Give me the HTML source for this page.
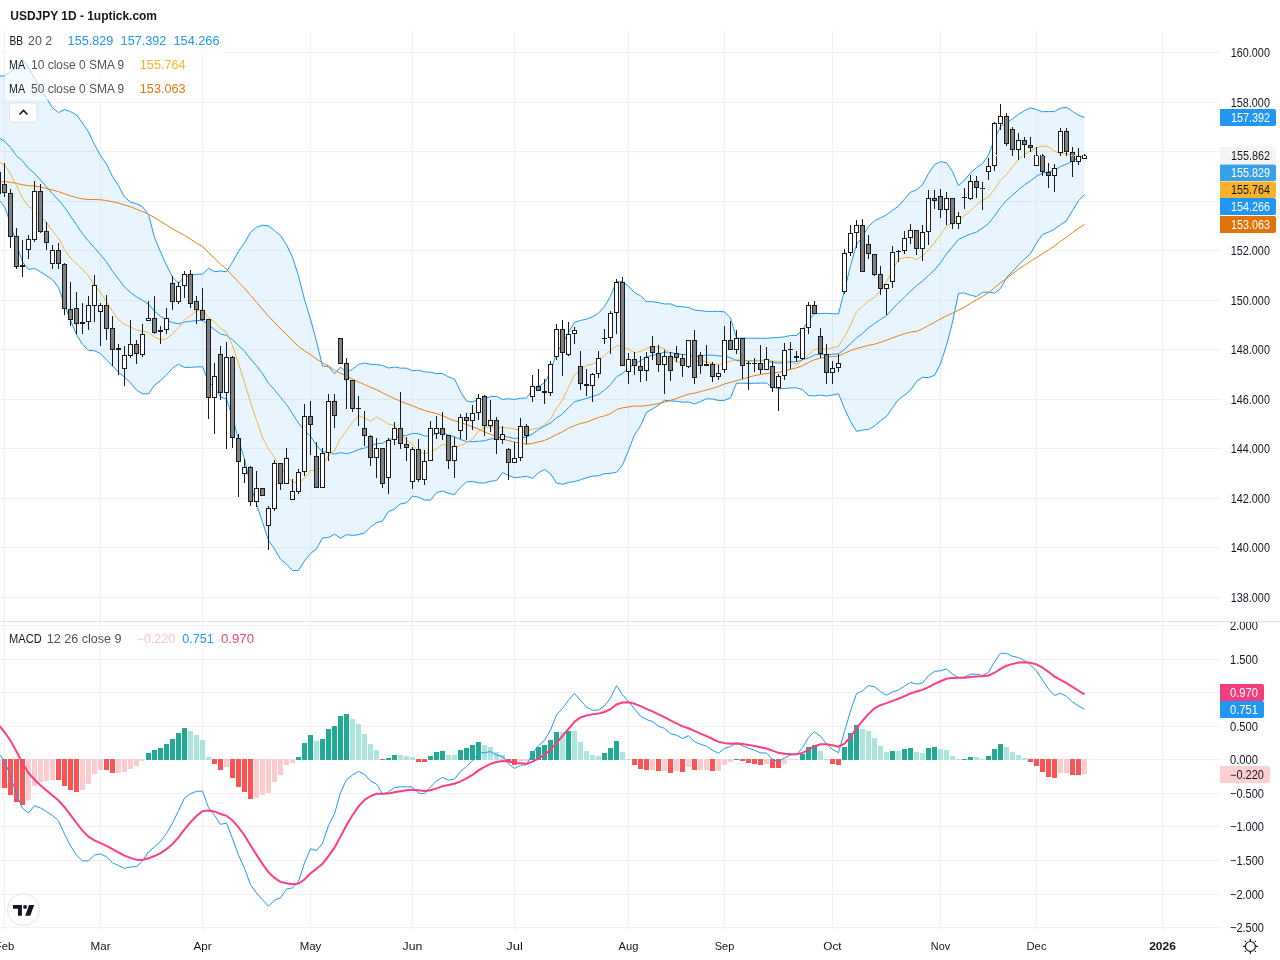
<!DOCTYPE html><html><head><meta charset="utf-8"><style>
html,body{margin:0;padding:0;background:#fff;width:1280px;height:960px;overflow:hidden}
svg{display:block;will-change:transform}
</style></head><body>
<svg width="1280" height="960" viewBox="0 0 1280 960" font-family="Liberation Sans, sans-serif">
<defs><clipPath id="cm"><rect x="0" y="31" width="1220" height="590"/></clipPath><clipPath id="cd"><rect x="0" y="622" width="1220" height="309"/></clipPath></defs>
<rect x="0" y="597" width="1220" height="1" fill="#f1f1f2"/>
<rect x="0" y="547" width="1220" height="1" fill="#f1f1f2"/>
<rect x="0" y="498" width="1220" height="1" fill="#f1f1f2"/>
<rect x="0" y="448" width="1220" height="1" fill="#f1f1f2"/>
<rect x="0" y="399" width="1220" height="1" fill="#f1f1f2"/>
<rect x="0" y="349" width="1220" height="1" fill="#f1f1f2"/>
<rect x="0" y="300" width="1220" height="1" fill="#f1f1f2"/>
<rect x="0" y="250" width="1220" height="1" fill="#f1f1f2"/>
<rect x="0" y="201" width="1220" height="1" fill="#f1f1f2"/>
<rect x="0" y="151" width="1220" height="1" fill="#f1f1f2"/>
<rect x="0" y="102" width="1220" height="1" fill="#f1f1f2"/>
<rect x="0" y="52" width="1220" height="1" fill="#f1f1f2"/>
<rect x="0" y="625" width="1220" height="1" fill="#f1f1f2"/>
<rect x="0" y="659" width="1220" height="1" fill="#f1f1f2"/>
<rect x="0" y="692" width="1220" height="1" fill="#f1f1f2"/>
<rect x="0" y="726" width="1220" height="1" fill="#f1f1f2"/>
<rect x="0" y="759" width="1220" height="1" fill="#f1f1f2"/>
<rect x="0" y="793" width="1220" height="1" fill="#f1f1f2"/>
<rect x="0" y="826" width="1220" height="1" fill="#f1f1f2"/>
<rect x="0" y="860" width="1220" height="1" fill="#f1f1f2"/>
<rect x="0" y="894" width="1220" height="1" fill="#f1f1f2"/>
<rect x="0" y="927" width="1220" height="1" fill="#f1f1f2"/>
<rect x="4" y="31" width="1" height="900" fill="#f1f1f2"/>
<rect x="100" y="31" width="1" height="900" fill="#f1f1f2"/>
<rect x="202" y="31" width="1" height="900" fill="#f1f1f2"/>
<rect x="310" y="31" width="1" height="900" fill="#f1f1f2"/>
<rect x="412" y="31" width="1" height="900" fill="#f1f1f2"/>
<rect x="514" y="31" width="1" height="900" fill="#f1f1f2"/>
<rect x="628" y="31" width="1" height="900" fill="#f1f1f2"/>
<rect x="724" y="31" width="1" height="900" fill="#f1f1f2"/>
<rect x="832" y="31" width="1" height="900" fill="#f1f1f2"/>
<rect x="940" y="31" width="1" height="900" fill="#f1f1f2"/>
<rect x="1036" y="31" width="1" height="900" fill="#f1f1f2"/>
<rect x="1162" y="31" width="1" height="900" fill="#f1f1f2"/>
<rect x="0" y="621" width="1280" height="1" fill="#e0e3eb"/>
<g clip-path="url(#cm)">
<polygon points="-1.50,76.11 4.50,75.96 10.50,71.64 16.50,67.01 22.50,59.84 28.50,67.28 34.50,78.36 40.50,88.18 46.50,98.12 52.50,107.74 58.50,112.64 64.50,109.51 70.50,111.65 76.50,114.81 82.50,123.12 88.50,131.95 94.50,144.59 100.50,155.64 106.50,164.05 112.50,176.53 118.50,185.67 124.50,196.94 130.50,202.19 136.50,203.63 142.50,206.74 148.50,214.67 154.50,237.41 160.50,251.83 166.50,265.10 172.50,277.08 178.50,283.28 184.50,276.64 190.50,275.23 196.50,274.24 202.50,274.07 208.50,268.32 214.50,271.66 220.50,271.01 226.50,271.72 232.50,262.13 238.50,251.28 244.50,242.89 250.50,232.43 256.50,227.26 262.50,225.17 268.50,225.88 274.50,230.51 280.50,235.50 286.50,244.74 292.50,257.17 298.50,275.95 304.50,299.60 310.50,319.05 316.50,341.56 322.50,365.97 328.50,366.66 334.50,373.85 340.50,367.02 346.50,372.70 352.50,369.07 358.50,364.41 364.50,363.04 370.50,364.32 376.50,364.66 382.50,365.40 388.50,368.07 394.50,367.03 400.50,368.14 406.50,368.13 412.50,370.72 418.50,370.21 424.50,371.84 430.50,372.18 436.50,373.68 442.50,373.46 448.50,376.90 454.50,379.05 460.50,391.57 466.50,401.00 472.50,402.07 478.50,399.57 484.50,398.58 490.50,396.64 496.50,396.41 502.50,399.46 508.50,398.77 514.50,399.39 520.50,398.29 526.50,397.95 532.50,389.58 538.50,386.42 544.50,382.78 550.50,372.03 556.50,353.01 562.50,343.53 568.50,332.71 574.50,322.18 580.50,320.46 586.50,319.06 592.50,316.80 598.50,313.17 604.50,306.56 610.50,296.14 616.50,281.53 622.50,281.69 628.50,286.11 634.50,292.55 640.50,295.75 646.50,301.64 652.50,301.65 658.50,302.64 664.50,303.97 670.50,303.88 676.50,306.37 682.50,306.75 688.50,307.44 694.50,310.12 700.50,310.63 706.50,311.43 712.50,311.36 718.50,311.39 724.50,311.76 730.50,317.91 736.50,338.09 742.50,338.09 748.50,338.25 754.50,338.22 760.50,338.28 766.50,338.40 772.50,337.71 778.50,337.60 784.50,336.81 790.50,335.48 796.50,335.48 802.50,329.86 808.50,320.64 814.50,313.78 820.50,313.49 826.50,313.34 832.50,313.62 838.50,313.85 844.50,290.27 850.50,265.83 856.50,244.67 862.50,236.66 868.50,226.36 874.50,220.76 880.50,217.92 886.50,214.89 892.50,210.25 898.50,206.11 904.50,199.14 910.50,192.12 916.50,189.92 922.50,184.61 928.50,173.64 934.50,164.59 940.50,161.59 946.50,162.79 952.50,171.50 958.50,185.55 964.50,180.30 970.50,172.83 976.50,167.76 982.50,163.63 988.50,155.05 994.50,138.95 1000.50,126.43 1006.50,123.00 1012.50,118.83 1018.50,114.42 1024.50,110.67 1030.50,107.93 1036.50,109.54 1042.50,111.73 1048.50,111.67 1054.50,111.54 1060.50,108.19 1066.50,107.39 1072.50,111.34 1078.50,115.32 1084.50,117.34 1084.50,194.56 1078.50,200.80 1072.50,210.71 1066.50,220.83 1060.50,224.81 1054.50,229.18 1048.50,232.23 1042.50,234.53 1036.50,242.92 1030.50,253.77 1024.50,259.23 1018.50,264.87 1012.50,271.59 1006.50,277.73 1000.50,288.47 994.50,293.15 988.50,292.12 982.50,292.34 976.50,296.56 970.50,295.27 964.50,292.97 958.50,293.28 952.50,322.08 946.50,345.29 940.50,363.89 934.50,375.39 928.50,377.58 922.50,377.29 916.50,381.48 910.50,390.23 904.50,395.21 898.50,399.44 892.50,407.70 886.50,416.46 880.50,420.85 874.50,426.04 868.50,429.39 862.50,430.04 856.50,431.33 850.50,421.42 844.50,408.58 838.50,393.75 832.50,394.98 826.50,396.01 820.50,395.06 814.50,395.95 808.50,395.46 802.50,389.74 796.50,387.90 790.50,387.90 784.50,388.64 778.50,388.48 772.50,387.22 766.50,383.10 760.50,383.05 754.50,383.28 748.50,383.43 742.50,383.21 736.50,383.21 730.50,397.84 724.50,400.39 718.50,400.46 712.50,398.99 706.50,398.77 700.50,401.67 694.50,403.98 688.50,402.06 682.50,402.18 676.50,401.25 670.50,400.94 664.50,400.26 658.50,405.24 652.50,408.85 646.50,412.26 640.50,425.97 634.50,434.77 628.50,450.44 622.50,465.16 616.50,472.25 610.50,473.33 604.50,473.67 598.50,475.83 592.50,476.13 586.50,477.74 580.50,479.84 574.50,481.50 568.50,482.54 562.50,484.32 556.50,483.01 550.50,473.82 544.50,469.47 538.50,472.73 532.50,478.39 526.50,476.32 520.50,477.11 514.50,477.73 508.50,475.43 502.50,472.57 496.50,480.59 490.50,481.26 484.50,482.92 478.50,482.93 472.50,481.48 466.50,482.02 460.50,487.38 454.50,494.48 448.50,493.45 442.50,490.99 436.50,492.67 430.50,500.15 424.50,500.06 418.50,497.19 412.50,496.08 406.50,502.87 400.50,503.96 394.50,509.07 388.50,511.53 382.50,520.97 376.50,522.81 370.50,527.10 364.50,532.89 358.50,534.69 352.50,535.38 346.50,534.70 340.50,538.13 334.50,534.25 328.50,537.62 322.50,537.91 316.50,548.86 310.50,553.55 304.50,560.95 298.50,570.40 292.50,570.56 286.50,564.01 280.50,559.25 274.50,548.94 268.50,540.44 262.50,522.16 256.50,504.04 250.50,485.47 244.50,459.29 238.50,439.69 232.50,417.45 226.50,399.08 220.50,396.86 214.50,387.49 208.50,381.70 202.50,366.73 196.50,366.91 190.50,367.37 184.50,367.46 178.50,364.22 172.50,368.14 166.50,374.93 160.50,380.68 154.50,385.12 148.50,393.78 142.50,393.81 136.50,390.09 130.50,382.75 124.50,377.15 118.50,372.15 112.50,365.84 106.50,359.92 100.50,353.63 94.50,350.81 88.50,350.33 82.50,344.44 76.50,334.58 70.50,320.41 64.50,304.90 58.50,287.39 52.50,279.79 46.50,275.72 40.50,271.82 34.50,268.45 28.50,269.46 22.50,261.92 16.50,244.50 10.50,223.38 4.50,206.70 -1.50,199.19" fill="#2196f3" fill-opacity="0.1"/>
<polyline points="-1.50,76.11 4.50,75.96 10.50,71.64 16.50,67.01 22.50,59.84 28.50,67.28 34.50,78.36 40.50,88.18 46.50,98.12 52.50,107.74 58.50,112.64 64.50,109.51 70.50,111.65 76.50,114.81 82.50,123.12 88.50,131.95 94.50,144.59 100.50,155.64 106.50,164.05 112.50,176.53 118.50,185.67 124.50,196.94 130.50,202.19 136.50,203.63 142.50,206.74 148.50,214.67 154.50,237.41 160.50,251.83 166.50,265.10 172.50,277.08 178.50,283.28 184.50,276.64 190.50,275.23 196.50,274.24 202.50,274.07 208.50,268.32 214.50,271.66 220.50,271.01 226.50,271.72 232.50,262.13 238.50,251.28 244.50,242.89 250.50,232.43 256.50,227.26 262.50,225.17 268.50,225.88 274.50,230.51 280.50,235.50 286.50,244.74 292.50,257.17 298.50,275.95 304.50,299.60 310.50,319.05 316.50,341.56 322.50,365.97 328.50,366.66 334.50,373.85 340.50,367.02 346.50,372.70 352.50,369.07 358.50,364.41 364.50,363.04 370.50,364.32 376.50,364.66 382.50,365.40 388.50,368.07 394.50,367.03 400.50,368.14 406.50,368.13 412.50,370.72 418.50,370.21 424.50,371.84 430.50,372.18 436.50,373.68 442.50,373.46 448.50,376.90 454.50,379.05 460.50,391.57 466.50,401.00 472.50,402.07 478.50,399.57 484.50,398.58 490.50,396.64 496.50,396.41 502.50,399.46 508.50,398.77 514.50,399.39 520.50,398.29 526.50,397.95 532.50,389.58 538.50,386.42 544.50,382.78 550.50,372.03 556.50,353.01 562.50,343.53 568.50,332.71 574.50,322.18 580.50,320.46 586.50,319.06 592.50,316.80 598.50,313.17 604.50,306.56 610.50,296.14 616.50,281.53 622.50,281.69 628.50,286.11 634.50,292.55 640.50,295.75 646.50,301.64 652.50,301.65 658.50,302.64 664.50,303.97 670.50,303.88 676.50,306.37 682.50,306.75 688.50,307.44 694.50,310.12 700.50,310.63 706.50,311.43 712.50,311.36 718.50,311.39 724.50,311.76 730.50,317.91 736.50,338.09 742.50,338.09 748.50,338.25 754.50,338.22 760.50,338.28 766.50,338.40 772.50,337.71 778.50,337.60 784.50,336.81 790.50,335.48 796.50,335.48 802.50,329.86 808.50,320.64 814.50,313.78 820.50,313.49 826.50,313.34 832.50,313.62 838.50,313.85 844.50,290.27 850.50,265.83 856.50,244.67 862.50,236.66 868.50,226.36 874.50,220.76 880.50,217.92 886.50,214.89 892.50,210.25 898.50,206.11 904.50,199.14 910.50,192.12 916.50,189.92 922.50,184.61 928.50,173.64 934.50,164.59 940.50,161.59 946.50,162.79 952.50,171.50 958.50,185.55 964.50,180.30 970.50,172.83 976.50,167.76 982.50,163.63 988.50,155.05 994.50,138.95 1000.50,126.43 1006.50,123.00 1012.50,118.83 1018.50,114.42 1024.50,110.67 1030.50,107.93 1036.50,109.54 1042.50,111.73 1048.50,111.67 1054.50,111.54 1060.50,108.19 1066.50,107.39 1072.50,111.34 1078.50,115.32 1084.50,117.34" fill="none" stroke="#2196f3" stroke-width="1" stroke-linejoin="round"/>
<polyline points="-1.50,137.65 4.50,141.33 10.50,147.51 16.50,155.75 22.50,160.88 28.50,168.37 34.50,173.41 40.50,180.00 46.50,186.92 52.50,193.77 58.50,200.01 64.50,207.21 70.50,216.03 76.50,224.69 82.50,233.78 88.50,241.14 94.50,247.70 100.50,254.64 106.50,261.98 112.50,271.19 118.50,278.91 124.50,287.04 130.50,292.47 136.50,296.86 142.50,300.28 148.50,304.23 154.50,311.26 160.50,316.25 166.50,320.01 172.50,322.61 178.50,323.75 184.50,322.05 190.50,321.30 196.50,320.58 202.50,320.40 208.50,325.01 214.50,329.57 220.50,333.94 226.50,335.40 232.50,339.79 238.50,345.49 244.50,351.09 250.50,358.95 256.50,365.65 262.50,373.66 268.50,383.16 274.50,389.72 280.50,397.37 286.50,404.37 292.50,413.86 298.50,423.17 304.50,430.27 310.50,436.30 316.50,445.21 322.50,451.94 328.50,452.14 334.50,454.05 340.50,452.57 346.50,453.70 352.50,452.22 358.50,449.55 364.50,447.96 370.50,445.71 376.50,443.74 382.50,443.19 388.50,439.80 394.50,438.05 400.50,436.05 406.50,435.50 412.50,433.40 418.50,433.70 424.50,435.95 430.50,436.16 436.50,433.17 442.50,432.22 448.50,435.18 454.50,436.76 460.50,439.47 466.50,441.51 472.50,441.77 478.50,441.25 484.50,440.75 490.50,438.95 496.50,438.50 502.50,436.01 508.50,437.10 514.50,438.56 520.50,437.70 526.50,437.14 532.50,433.99 538.50,429.57 544.50,426.13 550.50,422.93 556.50,418.01 562.50,413.93 568.50,407.62 574.50,401.84 580.50,400.15 586.50,398.40 592.50,396.46 598.50,394.50 604.50,390.11 610.50,384.74 616.50,376.89 622.50,373.42 628.50,368.27 634.50,363.66 640.50,360.86 646.50,356.95 652.50,355.25 658.50,353.94 664.50,352.11 670.50,352.41 676.50,353.81 682.50,354.46 688.50,354.75 694.50,357.05 700.50,356.15 706.50,355.10 712.50,355.17 718.50,355.93 724.50,356.07 730.50,357.87 736.50,360.65 742.50,360.65 748.50,360.84 754.50,360.75 760.50,360.66 766.50,360.75 772.50,362.46 778.50,363.04 784.50,362.73 790.50,361.69 796.50,361.69 802.50,359.80 808.50,358.05 814.50,354.86 820.50,354.28 826.50,354.67 832.50,354.30 838.50,353.80 844.50,349.43 850.50,343.62 856.50,338.00 862.50,333.35 868.50,327.88 874.50,323.40 880.50,319.39 886.50,315.67 892.50,308.98 898.50,302.78 904.50,297.17 910.50,291.18 916.50,285.70 922.50,280.95 928.50,275.61 934.50,269.99 940.50,262.74 946.50,254.04 952.50,246.79 958.50,239.41 964.50,236.64 970.50,234.05 976.50,232.16 982.50,227.99 988.50,223.59 994.50,216.05 1000.50,207.45 1006.50,200.36 1012.50,195.21 1018.50,189.65 1024.50,184.95 1030.50,180.85 1036.50,176.23 1042.50,173.13 1048.50,171.95 1054.50,170.36 1060.50,166.50 1066.50,164.11 1072.50,161.02 1078.50,158.06 1084.50,155.95" fill="none" stroke="#2196f3" stroke-width="1" stroke-linejoin="round"/>
<polyline points="-1.50,199.19 4.50,206.70 10.50,223.38 16.50,244.50 22.50,261.92 28.50,269.46 34.50,268.45 40.50,271.82 46.50,275.72 52.50,279.79 58.50,287.39 64.50,304.90 70.50,320.41 76.50,334.58 82.50,344.44 88.50,350.33 94.50,350.81 100.50,353.63 106.50,359.92 112.50,365.84 118.50,372.15 124.50,377.15 130.50,382.75 136.50,390.09 142.50,393.81 148.50,393.78 154.50,385.12 160.50,380.68 166.50,374.93 172.50,368.14 178.50,364.22 184.50,367.46 190.50,367.37 196.50,366.91 202.50,366.73 208.50,381.70 214.50,387.49 220.50,396.86 226.50,399.08 232.50,417.45 238.50,439.69 244.50,459.29 250.50,485.47 256.50,504.04 262.50,522.16 268.50,540.44 274.50,548.94 280.50,559.25 286.50,564.01 292.50,570.56 298.50,570.40 304.50,560.95 310.50,553.55 316.50,548.86 322.50,537.91 328.50,537.62 334.50,534.25 340.50,538.13 346.50,534.70 352.50,535.38 358.50,534.69 364.50,532.89 370.50,527.10 376.50,522.81 382.50,520.97 388.50,511.53 394.50,509.07 400.50,503.96 406.50,502.87 412.50,496.08 418.50,497.19 424.50,500.06 430.50,500.15 436.50,492.67 442.50,490.99 448.50,493.45 454.50,494.48 460.50,487.38 466.50,482.02 472.50,481.48 478.50,482.93 484.50,482.92 490.50,481.26 496.50,480.59 502.50,472.57 508.50,475.43 514.50,477.73 520.50,477.11 526.50,476.32 532.50,478.39 538.50,472.73 544.50,469.47 550.50,473.82 556.50,483.01 562.50,484.32 568.50,482.54 574.50,481.50 580.50,479.84 586.50,477.74 592.50,476.13 598.50,475.83 604.50,473.67 610.50,473.33 616.50,472.25 622.50,465.16 628.50,450.44 634.50,434.77 640.50,425.97 646.50,412.26 652.50,408.85 658.50,405.24 664.50,400.26 670.50,400.94 676.50,401.25 682.50,402.18 688.50,402.06 694.50,403.98 700.50,401.67 706.50,398.77 712.50,398.99 718.50,400.46 724.50,400.39 730.50,397.84 736.50,383.21 742.50,383.21 748.50,383.43 754.50,383.28 760.50,383.05 766.50,383.10 772.50,387.22 778.50,388.48 784.50,388.64 790.50,387.90 796.50,387.90 802.50,389.74 808.50,395.46 814.50,395.95 820.50,395.06 826.50,396.01 832.50,394.98 838.50,393.75 844.50,408.58 850.50,421.42 856.50,431.33 862.50,430.04 868.50,429.39 874.50,426.04 880.50,420.85 886.50,416.46 892.50,407.70 898.50,399.44 904.50,395.21 910.50,390.23 916.50,381.48 922.50,377.29 928.50,377.58 934.50,375.39 940.50,363.89 946.50,345.29 952.50,322.08 958.50,293.28 964.50,292.97 970.50,295.27 976.50,296.56 982.50,292.34 988.50,292.12 994.50,293.15 1000.50,288.47 1006.50,277.73 1012.50,271.59 1018.50,264.87 1024.50,259.23 1030.50,253.77 1036.50,242.92 1042.50,234.53 1048.50,232.23 1054.50,229.18 1060.50,224.81 1066.50,220.83 1072.50,210.71 1078.50,200.80 1084.50,194.56" fill="none" stroke="#2196f3" stroke-width="1" stroke-linejoin="round"/>
<polyline points="-1.50,181.92 4.50,181.66 10.50,182.24 16.50,183.42 22.50,184.73 28.50,185.71 34.50,185.95 40.50,187.10 46.50,188.50 52.50,190.00 58.50,191.61 64.50,193.83 70.50,195.86 76.50,197.58 82.50,198.87 88.50,199.50 94.50,199.48 100.50,199.75 106.50,200.49 112.50,201.75 118.50,203.14 124.50,204.94 130.50,206.81 136.50,209.20 142.50,211.61 148.50,214.18 154.50,217.52 160.50,221.25 166.50,225.05 172.50,228.74 178.50,232.18 184.50,235.30 190.50,239.12 196.50,243.29 202.50,246.39 208.50,252.55 214.50,258.26 220.50,264.13 226.50,269.19 232.50,275.68 238.50,282.14 244.50,288.19 250.50,295.38 256.50,302.13 262.50,309.21 268.50,316.22 274.50,322.41 280.50,328.75 286.50,334.29 292.50,340.80 298.50,346.39 304.50,350.87 310.50,354.64 316.50,359.07 322.50,362.81 328.50,366.05 334.50,370.52 340.50,373.16 346.50,375.90 352.50,379.07 358.50,381.96 364.50,384.50 370.50,387.26 376.50,389.74 382.50,392.98 388.50,395.69 394.50,398.55 400.50,401.32 406.50,403.70 412.50,405.69 418.50,408.31 424.50,410.43 430.50,412.11 436.50,413.59 442.50,415.59 448.50,418.43 454.50,420.72 460.50,422.44 466.50,424.50 472.50,426.73 478.50,428.96 484.50,431.98 490.50,434.31 496.50,436.91 502.50,439.22 508.50,440.52 514.50,442.15 520.50,442.83 526.50,444.39 532.50,443.37 538.50,441.95 544.50,440.45 550.50,437.70 556.50,434.54 562.50,431.69 568.50,428.22 574.50,425.56 580.50,423.55 586.50,422.11 592.50,419.77 598.50,417.49 604.50,415.91 610.50,413.69 616.50,409.59 622.50,407.81 628.50,406.98 634.50,405.99 640.50,406.14 646.50,405.69 652.50,404.58 658.50,403.70 664.50,402.11 670.50,400.38 676.50,398.57 682.50,396.21 688.50,394.19 694.50,393.16 700.50,391.59 706.50,389.95 712.50,388.48 718.50,386.37 724.50,383.96 730.50,382.37 736.50,380.57 742.50,379.18 748.50,377.24 754.50,375.59 760.50,374.62 766.50,373.39 772.50,372.86 778.50,372.42 784.50,370.90 790.50,369.48 796.50,367.85 802.50,365.72 808.50,362.57 814.50,359.68 820.50,358.23 826.50,356.96 832.50,356.60 838.50,356.07 844.50,353.28 850.50,350.65 856.50,348.57 862.50,346.95 868.50,345.34 874.50,344.21 880.50,342.31 886.50,340.29 892.50,337.86 898.50,335.73 904.50,333.72 910.50,332.05 916.50,331.37 922.50,328.73 928.50,325.51 934.50,322.21 940.50,318.98 946.50,315.80 952.50,313.22 958.50,310.25 964.50,307.09 970.50,303.31 976.50,299.91 982.50,296.36 988.50,292.88 994.50,287.81 1000.50,282.83 1006.50,278.40 1012.50,273.87 1018.50,269.21 1024.50,265.28 1030.50,261.24 1036.50,257.60 1042.50,253.72 1048.50,249.96 1054.50,246.06 1060.50,241.31 1066.50,237.15 1072.50,232.65 1078.50,228.27 1084.50,224.38" fill="none" stroke="#e67e0e" stroke-width="1" stroke-linejoin="round"/>
<polyline points="-1.50,161.91 4.50,164.70 10.50,174.07 16.50,185.61 22.50,198.19 28.50,206.32 34.50,210.08 40.50,216.52 46.50,222.67 52.50,231.07 58.50,238.12 64.50,249.71 70.50,257.99 76.50,263.77 82.50,269.37 88.50,275.95 94.50,285.33 100.50,292.75 106.50,301.30 112.50,311.30 118.50,319.70 124.50,324.38 130.50,326.95 136.50,329.95 142.50,331.18 148.50,332.50 154.50,337.20 160.50,339.75 166.50,338.72 172.50,333.93 178.50,327.80 184.50,319.73 190.50,315.65 196.50,311.20 202.50,309.63 208.50,317.53 214.50,321.95 220.50,328.13 226.50,332.08 232.50,345.65 238.50,363.18 244.50,382.45 250.50,402.25 256.50,420.10 262.50,437.70 268.50,448.80 274.50,457.50 280.50,466.62 286.50,476.67 292.50,482.08 298.50,483.17 304.50,478.10 310.50,470.35 316.50,470.33 322.50,466.17 328.50,455.48 334.50,450.60 340.50,438.53 346.50,430.72 352.50,422.38 358.50,415.92 364.50,417.82 370.50,421.07 376.50,417.15 382.50,420.20 388.50,424.12 394.50,425.50 400.50,433.57 406.50,440.27 412.50,444.42 418.50,451.47 424.50,454.07 430.50,451.25 436.50,449.20 442.50,444.25 448.50,446.23 454.50,448.03 460.50,445.37 466.50,442.75 472.50,439.12 478.50,431.02 484.50,427.42 490.50,426.65 496.50,427.80 502.50,427.77 508.50,427.97 514.50,429.10 520.50,430.02 526.50,431.53 532.50,428.85 538.50,428.12 544.50,424.83 550.50,419.20 556.50,408.22 562.50,400.07 568.50,387.28 574.50,374.57 580.50,370.27 586.50,365.28 592.50,364.08 598.50,360.87 604.50,355.40 610.50,350.28 616.50,345.55 622.50,346.78 628.50,349.27 634.50,352.75 640.50,351.45 646.50,348.62 652.50,346.42 658.50,347.00 664.50,348.82 670.50,354.55 676.50,362.07 682.50,362.15 688.50,360.22 694.50,361.35 700.50,360.85 706.50,361.57 712.50,363.93 718.50,364.85 724.50,363.33 730.50,361.20 736.50,359.22 742.50,359.15 748.50,361.45 754.50,360.15 760.50,360.48 766.50,359.93 772.50,361.00 778.50,361.23 784.50,362.13 790.50,362.17 796.50,364.15 802.50,360.45 808.50,354.65 814.50,349.58 820.50,348.08 826.50,349.43 832.50,347.60 838.50,346.37 844.50,336.73 850.50,325.08 856.50,311.85 862.50,306.25 868.50,301.10 874.50,297.22 880.50,290.70 886.50,281.92 892.50,270.35 898.50,259.18 904.50,257.63 910.50,257.27 916.50,259.55 922.50,255.65 928.50,250.13 934.50,242.75 940.50,234.77 946.50,226.15 952.50,223.23 958.50,219.65 964.50,215.65 970.50,210.82 976.50,204.78 982.50,200.33 988.50,197.05 994.50,189.35 1000.50,180.12 1006.50,174.57 1012.50,167.19 1018.50,159.64 1024.50,154.25 1030.50,150.87 1036.50,147.69 1042.50,145.94 1048.50,146.85 1054.50,151.37 1060.50,152.87 1066.50,153.65 1072.50,154.86 1078.50,156.49 1084.50,157.65" fill="none" stroke="#f2b43c" stroke-width="1" stroke-linejoin="round"/>
<rect x="-2" y="168" width="1" height="30" fill="#1a1a1a"/>
<rect x="-4" y="172" width="5" height="22" fill="#1a1a1a"/>
<rect x="-3" y="173" width="3" height="20" fill="#808080"/>
<rect x="4" y="163" width="1" height="34" fill="#1a1a1a"/>
<rect x="2" y="184" width="5" height="9" fill="#1a1a1a"/>
<rect x="3" y="185" width="3" height="7" fill="#808080"/>
<rect x="10" y="189" width="1" height="59" fill="#1a1a1a"/>
<rect x="8" y="193" width="5" height="44" fill="#1a1a1a"/>
<rect x="9" y="194" width="3" height="42" fill="#808080"/>
<rect x="16" y="228" width="1" height="41" fill="#1a1a1a"/>
<rect x="14" y="236" width="5" height="31" fill="#1a1a1a"/>
<rect x="15" y="237" width="3" height="29" fill="#808080"/>
<rect x="22" y="240" width="1" height="37" fill="#1a1a1a"/>
<rect x="20" y="265" width="5" height="2" fill="#1a1a1a"/>
<rect x="28" y="235" width="1" height="24" fill="#1a1a1a"/>
<rect x="26" y="239" width="5" height="11" fill="#1a1a1a"/>
<rect x="27" y="240" width="3" height="9" fill="#ffffff"/>
<rect x="34" y="181" width="1" height="61" fill="#1a1a1a"/>
<rect x="32" y="191" width="5" height="49" fill="#1a1a1a"/>
<rect x="33" y="192" width="3" height="47" fill="#ffffff"/>
<rect x="40" y="184" width="1" height="49" fill="#1a1a1a"/>
<rect x="38" y="191" width="5" height="41" fill="#1a1a1a"/>
<rect x="39" y="192" width="3" height="39" fill="#808080"/>
<rect x="46" y="222" width="1" height="28" fill="#1a1a1a"/>
<rect x="44" y="231" width="5" height="12" fill="#1a1a1a"/>
<rect x="45" y="232" width="3" height="10" fill="#808080"/>
<rect x="52" y="245" width="1" height="24" fill="#1a1a1a"/>
<rect x="50" y="250" width="5" height="14" fill="#1a1a1a"/>
<rect x="51" y="251" width="3" height="12" fill="#ffffff"/>
<rect x="58" y="243" width="1" height="26" fill="#1a1a1a"/>
<rect x="56" y="250" width="5" height="14" fill="#1a1a1a"/>
<rect x="57" y="251" width="3" height="12" fill="#808080"/>
<rect x="64" y="263" width="1" height="52" fill="#1a1a1a"/>
<rect x="62" y="264" width="5" height="45" fill="#1a1a1a"/>
<rect x="63" y="265" width="3" height="43" fill="#808080"/>
<rect x="70" y="282" width="1" height="44" fill="#1a1a1a"/>
<rect x="68" y="309" width="5" height="11" fill="#1a1a1a"/>
<rect x="69" y="310" width="3" height="9" fill="#808080"/>
<rect x="76" y="292" width="1" height="42" fill="#1a1a1a"/>
<rect x="74" y="308" width="5" height="16" fill="#1a1a1a"/>
<rect x="75" y="309" width="3" height="14" fill="#808080"/>
<rect x="82" y="303" width="1" height="31" fill="#1a1a1a"/>
<rect x="80" y="322" width="5" height="2" fill="#1a1a1a"/>
<rect x="88" y="296" width="1" height="34" fill="#1a1a1a"/>
<rect x="86" y="305" width="5" height="17" fill="#1a1a1a"/>
<rect x="87" y="306" width="3" height="15" fill="#ffffff"/>
<rect x="94" y="275" width="1" height="47" fill="#1a1a1a"/>
<rect x="92" y="285" width="5" height="21" fill="#1a1a1a"/>
<rect x="93" y="286" width="3" height="19" fill="#ffffff"/>
<rect x="100" y="303" width="1" height="43" fill="#1a1a1a"/>
<rect x="98" y="305" width="5" height="7" fill="#1a1a1a"/>
<rect x="99" y="306" width="3" height="5" fill="#ffffff"/>
<rect x="106" y="295" width="1" height="45" fill="#1a1a1a"/>
<rect x="104" y="305" width="5" height="24" fill="#1a1a1a"/>
<rect x="105" y="306" width="3" height="22" fill="#808080"/>
<rect x="112" y="316" width="1" height="50" fill="#1a1a1a"/>
<rect x="110" y="328" width="5" height="22" fill="#1a1a1a"/>
<rect x="111" y="329" width="3" height="20" fill="#808080"/>
<rect x="118" y="344" width="1" height="31" fill="#1a1a1a"/>
<rect x="116" y="348" width="5" height="2" fill="#1a1a1a"/>
<rect x="124" y="346" width="1" height="40" fill="#1a1a1a"/>
<rect x="122" y="355" width="5" height="14" fill="#1a1a1a"/>
<rect x="123" y="356" width="3" height="12" fill="#ffffff"/>
<rect x="130" y="320" width="1" height="38" fill="#1a1a1a"/>
<rect x="128" y="344" width="5" height="12" fill="#1a1a1a"/>
<rect x="129" y="345" width="3" height="10" fill="#ffffff"/>
<rect x="136" y="340" width="1" height="24" fill="#1a1a1a"/>
<rect x="134" y="344" width="5" height="10" fill="#1a1a1a"/>
<rect x="135" y="345" width="3" height="8" fill="#808080"/>
<rect x="142" y="324" width="1" height="33" fill="#1a1a1a"/>
<rect x="140" y="334" width="5" height="21" fill="#1a1a1a"/>
<rect x="141" y="335" width="3" height="19" fill="#ffffff"/>
<rect x="148" y="301" width="1" height="20" fill="#1a1a1a"/>
<rect x="146" y="318" width="5" height="3" fill="#1a1a1a"/>
<rect x="147" y="319" width="3" height="1" fill="#ffffff"/>
<rect x="154" y="296" width="1" height="38" fill="#1a1a1a"/>
<rect x="152" y="318" width="5" height="15" fill="#1a1a1a"/>
<rect x="153" y="319" width="3" height="13" fill="#808080"/>
<rect x="160" y="326" width="1" height="18" fill="#1a1a1a"/>
<rect x="158" y="330" width="5" height="2" fill="#1a1a1a"/>
<rect x="166" y="308" width="1" height="26" fill="#1a1a1a"/>
<rect x="164" y="318" width="5" height="12" fill="#1a1a1a"/>
<rect x="165" y="319" width="3" height="10" fill="#ffffff"/>
<rect x="172" y="276" width="1" height="34" fill="#1a1a1a"/>
<rect x="170" y="283" width="5" height="19" fill="#1a1a1a"/>
<rect x="171" y="284" width="3" height="17" fill="#808080"/>
<rect x="178" y="282" width="1" height="22" fill="#1a1a1a"/>
<rect x="176" y="286" width="5" height="16" fill="#1a1a1a"/>
<rect x="177" y="287" width="3" height="14" fill="#ffffff"/>
<rect x="184" y="271" width="1" height="27" fill="#1a1a1a"/>
<rect x="182" y="274" width="5" height="12" fill="#1a1a1a"/>
<rect x="183" y="275" width="3" height="10" fill="#ffffff"/>
<rect x="190" y="270" width="1" height="38" fill="#1a1a1a"/>
<rect x="188" y="274" width="5" height="30" fill="#1a1a1a"/>
<rect x="189" y="275" width="3" height="28" fill="#808080"/>
<rect x="196" y="296" width="1" height="28" fill="#1a1a1a"/>
<rect x="194" y="301" width="5" height="9" fill="#1a1a1a"/>
<rect x="195" y="302" width="3" height="7" fill="#808080"/>
<rect x="202" y="288" width="1" height="33" fill="#1a1a1a"/>
<rect x="200" y="310" width="5" height="10" fill="#1a1a1a"/>
<rect x="201" y="311" width="3" height="8" fill="#808080"/>
<rect x="208" y="319" width="1" height="100" fill="#1a1a1a"/>
<rect x="206" y="319" width="5" height="79" fill="#1a1a1a"/>
<rect x="207" y="320" width="3" height="77" fill="#808080"/>
<rect x="214" y="363" width="1" height="71" fill="#1a1a1a"/>
<rect x="212" y="376" width="5" height="22" fill="#1a1a1a"/>
<rect x="213" y="377" width="3" height="20" fill="#ffffff"/>
<rect x="220" y="346" width="1" height="54" fill="#1a1a1a"/>
<rect x="218" y="354" width="5" height="39" fill="#1a1a1a"/>
<rect x="219" y="355" width="3" height="37" fill="#808080"/>
<rect x="226" y="342" width="1" height="107" fill="#1a1a1a"/>
<rect x="224" y="357" width="5" height="36" fill="#1a1a1a"/>
<rect x="225" y="358" width="3" height="34" fill="#ffffff"/>
<rect x="232" y="356" width="1" height="92" fill="#1a1a1a"/>
<rect x="230" y="357" width="5" height="81" fill="#1a1a1a"/>
<rect x="231" y="358" width="3" height="79" fill="#808080"/>
<rect x="238" y="434" width="1" height="63" fill="#1a1a1a"/>
<rect x="236" y="438" width="5" height="24" fill="#1a1a1a"/>
<rect x="237" y="439" width="3" height="22" fill="#808080"/>
<rect x="244" y="459" width="1" height="24" fill="#1a1a1a"/>
<rect x="242" y="467" width="5" height="7" fill="#1a1a1a"/>
<rect x="243" y="468" width="3" height="5" fill="#ffffff"/>
<rect x="250" y="466" width="1" height="40" fill="#1a1a1a"/>
<rect x="248" y="467" width="5" height="35" fill="#1a1a1a"/>
<rect x="249" y="468" width="3" height="33" fill="#808080"/>
<rect x="256" y="471" width="1" height="36" fill="#1a1a1a"/>
<rect x="254" y="488" width="5" height="14" fill="#1a1a1a"/>
<rect x="255" y="489" width="3" height="12" fill="#ffffff"/>
<rect x="262" y="488" width="1" height="8" fill="#1a1a1a"/>
<rect x="260" y="488" width="5" height="8" fill="#1a1a1a"/>
<rect x="261" y="489" width="3" height="6" fill="#808080"/>
<rect x="268" y="506" width="1" height="44" fill="#1a1a1a"/>
<rect x="266" y="508" width="5" height="18" fill="#1a1a1a"/>
<rect x="267" y="509" width="3" height="16" fill="#ffffff"/>
<rect x="274" y="460" width="1" height="51" fill="#1a1a1a"/>
<rect x="272" y="463" width="5" height="46" fill="#1a1a1a"/>
<rect x="273" y="464" width="3" height="44" fill="#ffffff"/>
<rect x="280" y="463" width="1" height="27" fill="#1a1a1a"/>
<rect x="278" y="463" width="5" height="21" fill="#1a1a1a"/>
<rect x="279" y="464" width="3" height="19" fill="#808080"/>
<rect x="286" y="448" width="1" height="36" fill="#1a1a1a"/>
<rect x="284" y="458" width="5" height="26" fill="#1a1a1a"/>
<rect x="285" y="459" width="3" height="24" fill="#ffffff"/>
<rect x="292" y="479" width="1" height="21" fill="#1a1a1a"/>
<rect x="290" y="491" width="5" height="9" fill="#1a1a1a"/>
<rect x="291" y="492" width="3" height="7" fill="#ffffff"/>
<rect x="298" y="469" width="1" height="25" fill="#1a1a1a"/>
<rect x="296" y="472" width="5" height="20" fill="#1a1a1a"/>
<rect x="297" y="473" width="3" height="18" fill="#ffffff"/>
<rect x="304" y="404" width="1" height="72" fill="#1a1a1a"/>
<rect x="302" y="416" width="5" height="56" fill="#1a1a1a"/>
<rect x="303" y="417" width="3" height="54" fill="#ffffff"/>
<rect x="310" y="401" width="1" height="54" fill="#1a1a1a"/>
<rect x="308" y="416" width="5" height="9" fill="#1a1a1a"/>
<rect x="309" y="417" width="3" height="7" fill="#808080"/>
<rect x="316" y="442" width="1" height="46" fill="#1a1a1a"/>
<rect x="314" y="456" width="5" height="32" fill="#1a1a1a"/>
<rect x="315" y="457" width="3" height="30" fill="#808080"/>
<rect x="322" y="448" width="1" height="40" fill="#1a1a1a"/>
<rect x="320" y="453" width="5" height="35" fill="#1a1a1a"/>
<rect x="321" y="454" width="3" height="33" fill="#ffffff"/>
<rect x="328" y="394" width="1" height="67" fill="#1a1a1a"/>
<rect x="326" y="401" width="5" height="52" fill="#1a1a1a"/>
<rect x="327" y="402" width="3" height="50" fill="#ffffff"/>
<rect x="334" y="394" width="1" height="34" fill="#1a1a1a"/>
<rect x="332" y="401" width="5" height="15" fill="#1a1a1a"/>
<rect x="333" y="402" width="3" height="13" fill="#808080"/>
<rect x="340" y="338" width="1" height="26" fill="#1a1a1a"/>
<rect x="338" y="338" width="5" height="26" fill="#1a1a1a"/>
<rect x="339" y="339" width="3" height="24" fill="#808080"/>
<rect x="346" y="358" width="1" height="51" fill="#1a1a1a"/>
<rect x="344" y="363" width="5" height="17" fill="#1a1a1a"/>
<rect x="345" y="364" width="3" height="15" fill="#808080"/>
<rect x="352" y="380" width="1" height="32" fill="#1a1a1a"/>
<rect x="350" y="380" width="5" height="29" fill="#1a1a1a"/>
<rect x="351" y="381" width="3" height="27" fill="#808080"/>
<rect x="358" y="396" width="1" height="30" fill="#1a1a1a"/>
<rect x="356" y="408" width="5" height="1" fill="#1a1a1a"/>
<rect x="364" y="411" width="1" height="35" fill="#1a1a1a"/>
<rect x="362" y="428" width="5" height="8" fill="#1a1a1a"/>
<rect x="363" y="429" width="3" height="6" fill="#808080"/>
<rect x="370" y="435" width="1" height="31" fill="#1a1a1a"/>
<rect x="368" y="436" width="5" height="22" fill="#1a1a1a"/>
<rect x="369" y="437" width="3" height="20" fill="#808080"/>
<rect x="376" y="438" width="1" height="40" fill="#1a1a1a"/>
<rect x="374" y="448" width="5" height="10" fill="#1a1a1a"/>
<rect x="375" y="449" width="3" height="8" fill="#ffffff"/>
<rect x="382" y="448" width="1" height="40" fill="#1a1a1a"/>
<rect x="380" y="448" width="5" height="36" fill="#1a1a1a"/>
<rect x="381" y="449" width="3" height="34" fill="#808080"/>
<rect x="388" y="438" width="1" height="56" fill="#1a1a1a"/>
<rect x="386" y="440" width="5" height="38" fill="#1a1a1a"/>
<rect x="387" y="441" width="3" height="36" fill="#ffffff"/>
<rect x="394" y="422" width="1" height="23" fill="#1a1a1a"/>
<rect x="392" y="428" width="5" height="12" fill="#1a1a1a"/>
<rect x="393" y="429" width="3" height="10" fill="#ffffff"/>
<rect x="400" y="392" width="1" height="57" fill="#1a1a1a"/>
<rect x="398" y="428" width="5" height="16" fill="#1a1a1a"/>
<rect x="399" y="429" width="3" height="14" fill="#808080"/>
<rect x="406" y="437" width="1" height="24" fill="#1a1a1a"/>
<rect x="404" y="444" width="5" height="4" fill="#1a1a1a"/>
<rect x="405" y="445" width="3" height="2" fill="#808080"/>
<rect x="412" y="447" width="1" height="42" fill="#1a1a1a"/>
<rect x="410" y="449" width="5" height="33" fill="#1a1a1a"/>
<rect x="411" y="450" width="3" height="31" fill="#ffffff"/>
<rect x="418" y="439" width="1" height="43" fill="#1a1a1a"/>
<rect x="416" y="449" width="5" height="31" fill="#1a1a1a"/>
<rect x="417" y="450" width="3" height="29" fill="#808080"/>
<rect x="424" y="450" width="1" height="35" fill="#1a1a1a"/>
<rect x="422" y="461" width="5" height="19" fill="#1a1a1a"/>
<rect x="423" y="462" width="3" height="17" fill="#ffffff"/>
<rect x="430" y="421" width="1" height="40" fill="#1a1a1a"/>
<rect x="428" y="428" width="5" height="33" fill="#1a1a1a"/>
<rect x="429" y="429" width="3" height="31" fill="#ffffff"/>
<rect x="436" y="416" width="1" height="23" fill="#1a1a1a"/>
<rect x="434" y="428" width="5" height="6" fill="#1a1a1a"/>
<rect x="435" y="429" width="3" height="4" fill="#ffffff"/>
<rect x="442" y="412" width="1" height="28" fill="#1a1a1a"/>
<rect x="440" y="428" width="5" height="7" fill="#1a1a1a"/>
<rect x="441" y="429" width="3" height="5" fill="#808080"/>
<rect x="448" y="435" width="1" height="34" fill="#1a1a1a"/>
<rect x="446" y="435" width="5" height="26" fill="#1a1a1a"/>
<rect x="447" y="436" width="3" height="24" fill="#808080"/>
<rect x="454" y="437" width="1" height="41" fill="#1a1a1a"/>
<rect x="452" y="446" width="5" height="15" fill="#1a1a1a"/>
<rect x="453" y="447" width="3" height="13" fill="#ffffff"/>
<rect x="460" y="414" width="1" height="25" fill="#1a1a1a"/>
<rect x="458" y="417" width="5" height="14" fill="#1a1a1a"/>
<rect x="459" y="418" width="3" height="12" fill="#ffffff"/>
<rect x="466" y="413" width="1" height="27" fill="#1a1a1a"/>
<rect x="464" y="417" width="5" height="4" fill="#1a1a1a"/>
<rect x="465" y="418" width="3" height="2" fill="#808080"/>
<rect x="472" y="405" width="1" height="25" fill="#1a1a1a"/>
<rect x="470" y="413" width="5" height="8" fill="#1a1a1a"/>
<rect x="471" y="414" width="3" height="6" fill="#ffffff"/>
<rect x="478" y="394" width="1" height="26" fill="#1a1a1a"/>
<rect x="476" y="398" width="5" height="15" fill="#1a1a1a"/>
<rect x="477" y="399" width="3" height="13" fill="#ffffff"/>
<rect x="484" y="395" width="1" height="41" fill="#1a1a1a"/>
<rect x="482" y="396" width="5" height="30" fill="#1a1a1a"/>
<rect x="483" y="397" width="3" height="28" fill="#808080"/>
<rect x="490" y="400" width="1" height="32" fill="#1a1a1a"/>
<rect x="488" y="420" width="5" height="6" fill="#1a1a1a"/>
<rect x="489" y="421" width="3" height="4" fill="#ffffff"/>
<rect x="496" y="417" width="1" height="37" fill="#1a1a1a"/>
<rect x="494" y="420" width="5" height="20" fill="#1a1a1a"/>
<rect x="495" y="421" width="3" height="18" fill="#808080"/>
<rect x="502" y="426" width="1" height="18" fill="#1a1a1a"/>
<rect x="500" y="434" width="5" height="6" fill="#1a1a1a"/>
<rect x="501" y="435" width="3" height="4" fill="#ffffff"/>
<rect x="508" y="448" width="1" height="32" fill="#1a1a1a"/>
<rect x="506" y="449" width="5" height="14" fill="#1a1a1a"/>
<rect x="507" y="450" width="3" height="12" fill="#808080"/>
<rect x="514" y="442" width="1" height="21" fill="#1a1a1a"/>
<rect x="512" y="458" width="5" height="5" fill="#1a1a1a"/>
<rect x="513" y="459" width="3" height="3" fill="#ffffff"/>
<rect x="520" y="418" width="1" height="43" fill="#1a1a1a"/>
<rect x="518" y="426" width="5" height="32" fill="#1a1a1a"/>
<rect x="519" y="427" width="3" height="30" fill="#ffffff"/>
<rect x="526" y="424" width="1" height="20" fill="#1a1a1a"/>
<rect x="524" y="426" width="5" height="10" fill="#1a1a1a"/>
<rect x="525" y="427" width="3" height="8" fill="#808080"/>
<rect x="532" y="375" width="1" height="27" fill="#1a1a1a"/>
<rect x="530" y="386" width="5" height="11" fill="#1a1a1a"/>
<rect x="531" y="387" width="3" height="9" fill="#ffffff"/>
<rect x="538" y="369" width="1" height="22" fill="#1a1a1a"/>
<rect x="536" y="386" width="5" height="5" fill="#1a1a1a"/>
<rect x="537" y="387" width="3" height="3" fill="#808080"/>
<rect x="544" y="379" width="1" height="25" fill="#1a1a1a"/>
<rect x="542" y="391" width="5" height="2" fill="#1a1a1a"/>
<rect x="550" y="361" width="1" height="35" fill="#1a1a1a"/>
<rect x="548" y="364" width="5" height="29" fill="#1a1a1a"/>
<rect x="549" y="365" width="3" height="27" fill="#ffffff"/>
<rect x="556" y="324" width="1" height="36" fill="#1a1a1a"/>
<rect x="554" y="329" width="5" height="28" fill="#1a1a1a"/>
<rect x="555" y="330" width="3" height="26" fill="#ffffff"/>
<rect x="562" y="320" width="1" height="56" fill="#1a1a1a"/>
<rect x="560" y="329" width="5" height="24" fill="#1a1a1a"/>
<rect x="561" y="330" width="3" height="22" fill="#808080"/>
<rect x="568" y="322" width="1" height="34" fill="#1a1a1a"/>
<rect x="566" y="334" width="5" height="21" fill="#1a1a1a"/>
<rect x="567" y="335" width="3" height="19" fill="#ffffff"/>
<rect x="574" y="327" width="1" height="17" fill="#1a1a1a"/>
<rect x="572" y="330" width="5" height="4" fill="#1a1a1a"/>
<rect x="573" y="331" width="3" height="2" fill="#ffffff"/>
<rect x="580" y="351" width="1" height="39" fill="#1a1a1a"/>
<rect x="578" y="366" width="5" height="18" fill="#1a1a1a"/>
<rect x="579" y="367" width="3" height="16" fill="#808080"/>
<rect x="586" y="369" width="1" height="27" fill="#1a1a1a"/>
<rect x="584" y="384" width="5" height="2" fill="#1a1a1a"/>
<rect x="592" y="373" width="1" height="29" fill="#1a1a1a"/>
<rect x="590" y="374" width="5" height="12" fill="#1a1a1a"/>
<rect x="591" y="375" width="3" height="10" fill="#ffffff"/>
<rect x="598" y="351" width="1" height="27" fill="#1a1a1a"/>
<rect x="596" y="358" width="5" height="16" fill="#1a1a1a"/>
<rect x="597" y="359" width="3" height="14" fill="#ffffff"/>
<rect x="604" y="329" width="1" height="15" fill="#1a1a1a"/>
<rect x="602" y="338" width="5" height="1" fill="#1a1a1a"/>
<rect x="610" y="311" width="1" height="43" fill="#1a1a1a"/>
<rect x="608" y="313" width="5" height="25" fill="#1a1a1a"/>
<rect x="609" y="314" width="3" height="23" fill="#ffffff"/>
<rect x="616" y="279" width="1" height="55" fill="#1a1a1a"/>
<rect x="614" y="282" width="5" height="31" fill="#1a1a1a"/>
<rect x="615" y="283" width="3" height="29" fill="#ffffff"/>
<rect x="622" y="277" width="1" height="89" fill="#1a1a1a"/>
<rect x="620" y="282" width="5" height="84" fill="#1a1a1a"/>
<rect x="621" y="283" width="3" height="82" fill="#808080"/>
<rect x="628" y="353" width="1" height="31" fill="#1a1a1a"/>
<rect x="626" y="359" width="5" height="13" fill="#1a1a1a"/>
<rect x="627" y="360" width="3" height="11" fill="#ffffff"/>
<rect x="634" y="352" width="1" height="23" fill="#1a1a1a"/>
<rect x="632" y="359" width="5" height="7" fill="#1a1a1a"/>
<rect x="633" y="360" width="3" height="5" fill="#808080"/>
<rect x="640" y="356" width="1" height="26" fill="#1a1a1a"/>
<rect x="638" y="366" width="5" height="5" fill="#1a1a1a"/>
<rect x="639" y="367" width="3" height="3" fill="#808080"/>
<rect x="646" y="352" width="1" height="29" fill="#1a1a1a"/>
<rect x="644" y="357" width="5" height="14" fill="#1a1a1a"/>
<rect x="645" y="358" width="3" height="12" fill="#ffffff"/>
<rect x="652" y="336" width="1" height="24" fill="#1a1a1a"/>
<rect x="650" y="346" width="5" height="7" fill="#1a1a1a"/>
<rect x="651" y="347" width="3" height="5" fill="#808080"/>
<rect x="658" y="345" width="1" height="27" fill="#1a1a1a"/>
<rect x="656" y="353" width="5" height="12" fill="#1a1a1a"/>
<rect x="657" y="354" width="3" height="10" fill="#808080"/>
<rect x="664" y="350" width="1" height="44" fill="#1a1a1a"/>
<rect x="662" y="356" width="5" height="9" fill="#1a1a1a"/>
<rect x="663" y="357" width="3" height="7" fill="#ffffff"/>
<rect x="670" y="352" width="1" height="29" fill="#1a1a1a"/>
<rect x="668" y="356" width="5" height="15" fill="#1a1a1a"/>
<rect x="669" y="357" width="3" height="13" fill="#808080"/>
<rect x="676" y="346" width="1" height="16" fill="#1a1a1a"/>
<rect x="674" y="353" width="5" height="5" fill="#1a1a1a"/>
<rect x="675" y="354" width="3" height="3" fill="#808080"/>
<rect x="682" y="354" width="1" height="23" fill="#1a1a1a"/>
<rect x="680" y="358" width="5" height="8" fill="#1a1a1a"/>
<rect x="681" y="359" width="3" height="6" fill="#808080"/>
<rect x="688" y="340" width="1" height="28" fill="#1a1a1a"/>
<rect x="686" y="340" width="5" height="27" fill="#1a1a1a"/>
<rect x="687" y="341" width="3" height="25" fill="#ffffff"/>
<rect x="694" y="330" width="1" height="54" fill="#1a1a1a"/>
<rect x="692" y="340" width="5" height="38" fill="#1a1a1a"/>
<rect x="693" y="341" width="3" height="36" fill="#808080"/>
<rect x="700" y="352" width="1" height="22" fill="#1a1a1a"/>
<rect x="698" y="355" width="5" height="11" fill="#1a1a1a"/>
<rect x="699" y="356" width="3" height="9" fill="#808080"/>
<rect x="706" y="345" width="1" height="21" fill="#1a1a1a"/>
<rect x="704" y="364" width="5" height="2" fill="#1a1a1a"/>
<rect x="712" y="362" width="1" height="20" fill="#1a1a1a"/>
<rect x="710" y="364" width="5" height="13" fill="#1a1a1a"/>
<rect x="711" y="365" width="3" height="11" fill="#808080"/>
<rect x="718" y="365" width="1" height="15" fill="#1a1a1a"/>
<rect x="716" y="373" width="5" height="4" fill="#1a1a1a"/>
<rect x="717" y="374" width="3" height="2" fill="#ffffff"/>
<rect x="724" y="326" width="1" height="47" fill="#1a1a1a"/>
<rect x="722" y="340" width="5" height="30" fill="#1a1a1a"/>
<rect x="723" y="341" width="3" height="28" fill="#ffffff"/>
<rect x="730" y="321" width="1" height="29" fill="#1a1a1a"/>
<rect x="728" y="340" width="5" height="10" fill="#1a1a1a"/>
<rect x="729" y="341" width="3" height="8" fill="#808080"/>
<rect x="736" y="330" width="1" height="24" fill="#1a1a1a"/>
<rect x="734" y="338" width="5" height="12" fill="#1a1a1a"/>
<rect x="735" y="339" width="3" height="10" fill="#ffffff"/>
<rect x="742" y="338" width="1" height="41" fill="#1a1a1a"/>
<rect x="740" y="338" width="5" height="28" fill="#1a1a1a"/>
<rect x="741" y="339" width="3" height="26" fill="#808080"/>
<rect x="748" y="361" width="1" height="29" fill="#1a1a1a"/>
<rect x="746" y="363" width="5" height="1" fill="#1a1a1a"/>
<rect x="754" y="358" width="1" height="14" fill="#1a1a1a"/>
<rect x="752" y="363" width="5" height="1" fill="#1a1a1a"/>
<rect x="760" y="345" width="1" height="29" fill="#1a1a1a"/>
<rect x="758" y="363" width="5" height="7" fill="#1a1a1a"/>
<rect x="759" y="364" width="3" height="5" fill="#808080"/>
<rect x="766" y="347" width="1" height="23" fill="#1a1a1a"/>
<rect x="764" y="359" width="5" height="11" fill="#1a1a1a"/>
<rect x="765" y="360" width="3" height="9" fill="#ffffff"/>
<rect x="772" y="361" width="1" height="31" fill="#1a1a1a"/>
<rect x="770" y="366" width="5" height="22" fill="#1a1a1a"/>
<rect x="771" y="367" width="3" height="20" fill="#808080"/>
<rect x="778" y="374" width="1" height="37" fill="#1a1a1a"/>
<rect x="776" y="376" width="5" height="12" fill="#1a1a1a"/>
<rect x="777" y="377" width="3" height="10" fill="#ffffff"/>
<rect x="784" y="343" width="1" height="37" fill="#1a1a1a"/>
<rect x="782" y="350" width="5" height="26" fill="#1a1a1a"/>
<rect x="783" y="351" width="3" height="24" fill="#ffffff"/>
<rect x="790" y="342" width="1" height="27" fill="#1a1a1a"/>
<rect x="788" y="349" width="5" height="1" fill="#1a1a1a"/>
<rect x="796" y="351" width="1" height="11" fill="#1a1a1a"/>
<rect x="794" y="356" width="5" height="2" fill="#1a1a1a"/>
<rect x="802" y="328" width="1" height="32" fill="#1a1a1a"/>
<rect x="800" y="328" width="5" height="31" fill="#1a1a1a"/>
<rect x="801" y="329" width="3" height="29" fill="#ffffff"/>
<rect x="808" y="302" width="1" height="32" fill="#1a1a1a"/>
<rect x="806" y="305" width="5" height="23" fill="#1a1a1a"/>
<rect x="807" y="306" width="3" height="21" fill="#ffffff"/>
<rect x="814" y="301" width="1" height="13" fill="#1a1a1a"/>
<rect x="812" y="305" width="5" height="9" fill="#1a1a1a"/>
<rect x="813" y="306" width="3" height="7" fill="#808080"/>
<rect x="820" y="328" width="1" height="30" fill="#1a1a1a"/>
<rect x="818" y="336" width="5" height="18" fill="#1a1a1a"/>
<rect x="819" y="337" width="3" height="16" fill="#808080"/>
<rect x="826" y="344" width="1" height="40" fill="#1a1a1a"/>
<rect x="824" y="354" width="5" height="19" fill="#1a1a1a"/>
<rect x="825" y="355" width="3" height="17" fill="#808080"/>
<rect x="832" y="361" width="1" height="23" fill="#1a1a1a"/>
<rect x="830" y="368" width="5" height="5" fill="#1a1a1a"/>
<rect x="831" y="369" width="3" height="3" fill="#ffffff"/>
<rect x="838" y="354" width="1" height="18" fill="#1a1a1a"/>
<rect x="836" y="363" width="5" height="5" fill="#1a1a1a"/>
<rect x="837" y="364" width="3" height="3" fill="#ffffff"/>
<rect x="844" y="249" width="1" height="45" fill="#1a1a1a"/>
<rect x="842" y="253" width="5" height="39" fill="#1a1a1a"/>
<rect x="843" y="254" width="3" height="37" fill="#ffffff"/>
<rect x="850" y="225" width="1" height="31" fill="#1a1a1a"/>
<rect x="848" y="233" width="5" height="20" fill="#1a1a1a"/>
<rect x="849" y="234" width="3" height="18" fill="#ffffff"/>
<rect x="856" y="220" width="1" height="28" fill="#1a1a1a"/>
<rect x="854" y="225" width="5" height="8" fill="#1a1a1a"/>
<rect x="855" y="226" width="3" height="6" fill="#ffffff"/>
<rect x="862" y="219" width="1" height="53" fill="#1a1a1a"/>
<rect x="860" y="225" width="5" height="47" fill="#1a1a1a"/>
<rect x="861" y="226" width="3" height="45" fill="#808080"/>
<rect x="868" y="235" width="1" height="24" fill="#1a1a1a"/>
<rect x="866" y="244" width="5" height="10" fill="#1a1a1a"/>
<rect x="867" y="245" width="3" height="8" fill="#808080"/>
<rect x="874" y="254" width="1" height="22" fill="#1a1a1a"/>
<rect x="872" y="254" width="5" height="21" fill="#1a1a1a"/>
<rect x="873" y="255" width="3" height="19" fill="#808080"/>
<rect x="880" y="266" width="1" height="29" fill="#1a1a1a"/>
<rect x="878" y="274" width="5" height="15" fill="#1a1a1a"/>
<rect x="879" y="275" width="3" height="13" fill="#808080"/>
<rect x="886" y="284" width="1" height="31" fill="#1a1a1a"/>
<rect x="884" y="284" width="5" height="5" fill="#1a1a1a"/>
<rect x="885" y="285" width="3" height="3" fill="#ffffff"/>
<rect x="892" y="246" width="1" height="42" fill="#1a1a1a"/>
<rect x="890" y="252" width="5" height="30" fill="#1a1a1a"/>
<rect x="891" y="253" width="3" height="28" fill="#ffffff"/>
<rect x="898" y="250" width="1" height="12" fill="#1a1a1a"/>
<rect x="896" y="251" width="5" height="1" fill="#1a1a1a"/>
<rect x="904" y="231" width="1" height="23" fill="#1a1a1a"/>
<rect x="902" y="238" width="5" height="13" fill="#1a1a1a"/>
<rect x="903" y="239" width="3" height="11" fill="#ffffff"/>
<rect x="910" y="224" width="1" height="20" fill="#1a1a1a"/>
<rect x="908" y="230" width="5" height="8" fill="#1a1a1a"/>
<rect x="909" y="231" width="3" height="6" fill="#ffffff"/>
<rect x="916" y="230" width="1" height="25" fill="#1a1a1a"/>
<rect x="914" y="230" width="5" height="19" fill="#1a1a1a"/>
<rect x="915" y="231" width="3" height="17" fill="#808080"/>
<rect x="922" y="225" width="1" height="36" fill="#1a1a1a"/>
<rect x="920" y="232" width="5" height="17" fill="#1a1a1a"/>
<rect x="921" y="233" width="3" height="15" fill="#ffffff"/>
<rect x="928" y="190" width="1" height="55" fill="#1a1a1a"/>
<rect x="926" y="198" width="5" height="34" fill="#1a1a1a"/>
<rect x="927" y="199" width="3" height="32" fill="#ffffff"/>
<rect x="934" y="190" width="1" height="19" fill="#1a1a1a"/>
<rect x="932" y="198" width="5" height="3" fill="#1a1a1a"/>
<rect x="933" y="199" width="3" height="1" fill="#808080"/>
<rect x="940" y="189" width="1" height="29" fill="#1a1a1a"/>
<rect x="938" y="196" width="5" height="14" fill="#1a1a1a"/>
<rect x="939" y="197" width="3" height="12" fill="#808080"/>
<rect x="946" y="192" width="1" height="33" fill="#1a1a1a"/>
<rect x="944" y="198" width="5" height="12" fill="#1a1a1a"/>
<rect x="945" y="199" width="3" height="10" fill="#ffffff"/>
<rect x="952" y="198" width="1" height="31" fill="#1a1a1a"/>
<rect x="950" y="198" width="5" height="26" fill="#1a1a1a"/>
<rect x="951" y="199" width="3" height="24" fill="#808080"/>
<rect x="958" y="212" width="1" height="17" fill="#1a1a1a"/>
<rect x="956" y="216" width="5" height="8" fill="#1a1a1a"/>
<rect x="957" y="217" width="3" height="6" fill="#ffffff"/>
<rect x="964" y="188" width="1" height="21" fill="#1a1a1a"/>
<rect x="962" y="197" width="5" height="1" fill="#1a1a1a"/>
<rect x="970" y="175" width="1" height="25" fill="#1a1a1a"/>
<rect x="968" y="181" width="5" height="18" fill="#1a1a1a"/>
<rect x="969" y="182" width="3" height="16" fill="#ffffff"/>
<rect x="976" y="176" width="1" height="22" fill="#1a1a1a"/>
<rect x="974" y="181" width="5" height="7" fill="#1a1a1a"/>
<rect x="975" y="182" width="3" height="5" fill="#808080"/>
<rect x="982" y="182" width="1" height="28" fill="#1a1a1a"/>
<rect x="980" y="188" width="5" height="1" fill="#1a1a1a"/>
<rect x="988" y="158" width="1" height="22" fill="#1a1a1a"/>
<rect x="986" y="166" width="5" height="6" fill="#1a1a1a"/>
<rect x="987" y="167" width="3" height="4" fill="#ffffff"/>
<rect x="994" y="122" width="1" height="49" fill="#1a1a1a"/>
<rect x="992" y="123" width="5" height="43" fill="#1a1a1a"/>
<rect x="993" y="124" width="3" height="41" fill="#ffffff"/>
<rect x="1000" y="104" width="1" height="26" fill="#1a1a1a"/>
<rect x="998" y="116" width="5" height="8" fill="#1a1a1a"/>
<rect x="999" y="117" width="3" height="6" fill="#ffffff"/>
<rect x="1006" y="113" width="1" height="33" fill="#1a1a1a"/>
<rect x="1004" y="116" width="5" height="28" fill="#1a1a1a"/>
<rect x="1005" y="117" width="3" height="26" fill="#808080"/>
<rect x="1012" y="127" width="1" height="29" fill="#1a1a1a"/>
<rect x="1010" y="129" width="5" height="21" fill="#1a1a1a"/>
<rect x="1011" y="130" width="3" height="19" fill="#808080"/>
<rect x="1018" y="133" width="1" height="27" fill="#1a1a1a"/>
<rect x="1016" y="140" width="5" height="10" fill="#1a1a1a"/>
<rect x="1017" y="141" width="3" height="8" fill="#ffffff"/>
<rect x="1024" y="137" width="1" height="21" fill="#1a1a1a"/>
<rect x="1022" y="140" width="5" height="5" fill="#1a1a1a"/>
<rect x="1023" y="141" width="3" height="3" fill="#808080"/>
<rect x="1030" y="137" width="1" height="15" fill="#1a1a1a"/>
<rect x="1028" y="145" width="5" height="3" fill="#1a1a1a"/>
<rect x="1029" y="146" width="3" height="1" fill="#808080"/>
<rect x="1036" y="147" width="1" height="19" fill="#1a1a1a"/>
<rect x="1034" y="155" width="5" height="11" fill="#1a1a1a"/>
<rect x="1035" y="156" width="3" height="9" fill="#ffffff"/>
<rect x="1042" y="154" width="1" height="22" fill="#1a1a1a"/>
<rect x="1040" y="155" width="5" height="17" fill="#1a1a1a"/>
<rect x="1041" y="156" width="3" height="15" fill="#808080"/>
<rect x="1048" y="163" width="1" height="25" fill="#1a1a1a"/>
<rect x="1046" y="172" width="5" height="4" fill="#1a1a1a"/>
<rect x="1047" y="173" width="3" height="2" fill="#808080"/>
<rect x="1054" y="164" width="1" height="28" fill="#1a1a1a"/>
<rect x="1052" y="168" width="5" height="8" fill="#1a1a1a"/>
<rect x="1053" y="169" width="3" height="6" fill="#ffffff"/>
<rect x="1060" y="128" width="1" height="28" fill="#1a1a1a"/>
<rect x="1058" y="131" width="5" height="22" fill="#1a1a1a"/>
<rect x="1059" y="132" width="3" height="20" fill="#ffffff"/>
<rect x="1066" y="128" width="1" height="28" fill="#1a1a1a"/>
<rect x="1064" y="131" width="5" height="21" fill="#1a1a1a"/>
<rect x="1065" y="132" width="3" height="19" fill="#808080"/>
<rect x="1072" y="147" width="1" height="30" fill="#1a1a1a"/>
<rect x="1070" y="152" width="5" height="10" fill="#1a1a1a"/>
<rect x="1071" y="153" width="3" height="8" fill="#808080"/>
<rect x="1078" y="148" width="1" height="17" fill="#1a1a1a"/>
<rect x="1076" y="156" width="5" height="6" fill="#1a1a1a"/>
<rect x="1077" y="157" width="3" height="4" fill="#ffffff"/>
<rect x="1084" y="154" width="1" height="5" fill="#1a1a1a"/>
<rect x="1082" y="155" width="5" height="4" fill="#1a1a1a"/>
<rect x="1083" y="156" width="3" height="2" fill="#ffffff"/>
</g>
<g clip-path="url(#cd)">
<rect x="-4" y="759" width="5" height="29" fill="#fccbcd"/>
<rect x="2" y="759" width="5" height="29" fill="#ff5252"/>
<rect x="8" y="759" width="5" height="36" fill="#ff5252"/>
<rect x="14" y="759" width="5" height="43" fill="#ff5252"/>
<rect x="20" y="759" width="5" height="46" fill="#ff5252"/>
<rect x="26" y="759" width="5" height="41" fill="#fccbcd"/>
<rect x="32" y="759" width="5" height="27" fill="#fccbcd"/>
<rect x="38" y="759" width="5" height="23" fill="#fccbcd"/>
<rect x="44" y="759" width="5" height="22" fill="#fccbcd"/>
<rect x="50" y="759" width="5" height="21" fill="#fccbcd"/>
<rect x="56" y="759" width="5" height="21" fill="#ff5252"/>
<rect x="62" y="759" width="5" height="27" fill="#ff5252"/>
<rect x="68" y="759" width="5" height="31" fill="#ff5252"/>
<rect x="74" y="759" width="5" height="33" fill="#ff5252"/>
<rect x="80" y="759" width="5" height="31" fill="#fccbcd"/>
<rect x="86" y="759" width="5" height="25" fill="#fccbcd"/>
<rect x="92" y="759" width="5" height="15" fill="#fccbcd"/>
<rect x="98" y="759" width="5" height="11" fill="#fccbcd"/>
<rect x="104" y="759" width="5" height="11" fill="#ff5252"/>
<rect x="110" y="759" width="5" height="14" fill="#ff5252"/>
<rect x="116" y="759" width="5" height="14" fill="#fccbcd"/>
<rect x="122" y="759" width="5" height="13" fill="#fccbcd"/>
<rect x="128" y="759" width="5" height="10" fill="#fccbcd"/>
<rect x="134" y="759" width="5" height="7" fill="#fccbcd"/>
<rect x="140" y="759" width="5" height="2" fill="#fccbcd"/>
<rect x="146" y="753" width="5" height="7" fill="#22ab94"/>
<rect x="152" y="750" width="5" height="10" fill="#22ab94"/>
<rect x="158" y="748" width="5" height="12" fill="#22ab94"/>
<rect x="164" y="744" width="5" height="16" fill="#22ab94"/>
<rect x="170" y="739" width="5" height="21" fill="#22ab94"/>
<rect x="176" y="733" width="5" height="27" fill="#22ab94"/>
<rect x="182" y="728" width="5" height="32" fill="#22ab94"/>
<rect x="188" y="731" width="5" height="29" fill="#ace5dc"/>
<rect x="194" y="735" width="5" height="25" fill="#ace5dc"/>
<rect x="200" y="740" width="5" height="20" fill="#ace5dc"/>
<rect x="206" y="757" width="5" height="3" fill="#ace5dc"/>
<rect x="212" y="759" width="5" height="5" fill="#ff5252"/>
<rect x="218" y="759" width="5" height="11" fill="#ff5252"/>
<rect x="224" y="759" width="5" height="8" fill="#fccbcd"/>
<rect x="230" y="759" width="5" height="19" fill="#ff5252"/>
<rect x="236" y="759" width="5" height="28" fill="#ff5252"/>
<rect x="242" y="759" width="5" height="33" fill="#ff5252"/>
<rect x="248" y="759" width="5" height="40" fill="#ff5252"/>
<rect x="254" y="759" width="5" height="39" fill="#fccbcd"/>
<rect x="260" y="759" width="5" height="36" fill="#fccbcd"/>
<rect x="266" y="759" width="5" height="34" fill="#fccbcd"/>
<rect x="272" y="759" width="5" height="23" fill="#fccbcd"/>
<rect x="278" y="759" width="5" height="16" fill="#fccbcd"/>
<rect x="284" y="759" width="5" height="6" fill="#fccbcd"/>
<rect x="290" y="759" width="5" height="4" fill="#fccbcd"/>
<rect x="296" y="757" width="5" height="3" fill="#22ab94"/>
<rect x="302" y="743" width="5" height="17" fill="#22ab94"/>
<rect x="308" y="735" width="5" height="25" fill="#22ab94"/>
<rect x="314" y="741" width="5" height="19" fill="#ace5dc"/>
<rect x="320" y="739" width="5" height="21" fill="#22ab94"/>
<rect x="326" y="729" width="5" height="31" fill="#22ab94"/>
<rect x="332" y="726" width="5" height="34" fill="#22ab94"/>
<rect x="338" y="716" width="5" height="44" fill="#22ab94"/>
<rect x="344" y="714" width="5" height="46" fill="#22ab94"/>
<rect x="350" y="719" width="5" height="41" fill="#ace5dc"/>
<rect x="356" y="724" width="5" height="36" fill="#ace5dc"/>
<rect x="362" y="734" width="5" height="26" fill="#ace5dc"/>
<rect x="368" y="744" width="5" height="16" fill="#ace5dc"/>
<rect x="374" y="750" width="5" height="10" fill="#ace5dc"/>
<rect x="380" y="759" width="5" height="1" fill="#ff5252"/>
<rect x="386" y="758" width="5" height="2" fill="#22ab94"/>
<rect x="392" y="755" width="5" height="5" fill="#22ab94"/>
<rect x="398" y="755" width="5" height="5" fill="#ace5dc"/>
<rect x="404" y="756" width="5" height="4" fill="#ace5dc"/>
<rect x="410" y="757" width="5" height="3" fill="#ace5dc"/>
<rect x="416" y="759" width="5" height="3" fill="#ff5252"/>
<rect x="422" y="759" width="5" height="3" fill="#ff5252"/>
<rect x="428" y="756" width="5" height="4" fill="#22ab94"/>
<rect x="434" y="752" width="5" height="8" fill="#22ab94"/>
<rect x="440" y="751" width="5" height="9" fill="#22ab94"/>
<rect x="446" y="755" width="5" height="5" fill="#ace5dc"/>
<rect x="452" y="755" width="5" height="5" fill="#ace5dc"/>
<rect x="458" y="750" width="5" height="10" fill="#22ab94"/>
<rect x="464" y="748" width="5" height="12" fill="#22ab94"/>
<rect x="470" y="745" width="5" height="15" fill="#22ab94"/>
<rect x="476" y="742" width="5" height="18" fill="#22ab94"/>
<rect x="482" y="745" width="5" height="15" fill="#ace5dc"/>
<rect x="488" y="747" width="5" height="13" fill="#ace5dc"/>
<rect x="494" y="752" width="5" height="8" fill="#ace5dc"/>
<rect x="500" y="755" width="5" height="5" fill="#ace5dc"/>
<rect x="506" y="759" width="5" height="3" fill="#ff5252"/>
<rect x="512" y="759" width="5" height="6" fill="#ff5252"/>
<rect x="518" y="759" width="5" height="2" fill="#fccbcd"/>
<rect x="524" y="759" width="5" height="2" fill="#fccbcd"/>
<rect x="530" y="751" width="5" height="9" fill="#22ab94"/>
<rect x="536" y="747" width="5" height="13" fill="#22ab94"/>
<rect x="542" y="745" width="5" height="15" fill="#22ab94"/>
<rect x="548" y="740" width="5" height="20" fill="#22ab94"/>
<rect x="554" y="732" width="5" height="28" fill="#22ab94"/>
<rect x="560" y="732" width="5" height="28" fill="#ace5dc"/>
<rect x="566" y="731" width="5" height="29" fill="#22ab94"/>
<rect x="572" y="731" width="5" height="29" fill="#ace5dc"/>
<rect x="578" y="742" width="5" height="18" fill="#ace5dc"/>
<rect x="584" y="751" width="5" height="9" fill="#ace5dc"/>
<rect x="590" y="755" width="5" height="5" fill="#ace5dc"/>
<rect x="596" y="756" width="5" height="4" fill="#ace5dc"/>
<rect x="602" y="753" width="5" height="7" fill="#22ab94"/>
<rect x="608" y="748" width="5" height="12" fill="#22ab94"/>
<rect x="614" y="741" width="5" height="19" fill="#22ab94"/>
<rect x="620" y="752" width="5" height="8" fill="#ace5dc"/>
<rect x="626" y="759" width="5" height="1" fill="#ace5dc"/>
<rect x="632" y="759" width="5" height="6" fill="#ff5252"/>
<rect x="638" y="759" width="5" height="10" fill="#ff5252"/>
<rect x="644" y="759" width="5" height="11" fill="#ff5252"/>
<rect x="650" y="759" width="5" height="11" fill="#fccbcd"/>
<rect x="656" y="759" width="5" height="12" fill="#ff5252"/>
<rect x="662" y="759" width="5" height="12" fill="#fccbcd"/>
<rect x="668" y="759" width="5" height="14" fill="#ff5252"/>
<rect x="674" y="759" width="5" height="12" fill="#fccbcd"/>
<rect x="680" y="759" width="5" height="13" fill="#ff5252"/>
<rect x="686" y="759" width="5" height="8" fill="#fccbcd"/>
<rect x="692" y="759" width="5" height="11" fill="#ff5252"/>
<rect x="698" y="759" width="5" height="11" fill="#fccbcd"/>
<rect x="704" y="759" width="5" height="11" fill="#fccbcd"/>
<rect x="710" y="759" width="5" height="12" fill="#ff5252"/>
<rect x="716" y="759" width="5" height="12" fill="#fccbcd"/>
<rect x="722" y="759" width="5" height="6" fill="#fccbcd"/>
<rect x="728" y="759" width="5" height="3" fill="#fccbcd"/>
<rect x="734" y="759" width="5" height="1" fill="#22ab94"/>
<rect x="740" y="759" width="5" height="2" fill="#ff5252"/>
<rect x="746" y="759" width="5" height="4" fill="#ff5252"/>
<rect x="752" y="759" width="5" height="5" fill="#ff5252"/>
<rect x="758" y="759" width="5" height="6" fill="#ff5252"/>
<rect x="764" y="759" width="5" height="5" fill="#fccbcd"/>
<rect x="770" y="759" width="5" height="9" fill="#ff5252"/>
<rect x="776" y="759" width="5" height="9" fill="#ff5252"/>
<rect x="782" y="759" width="5" height="5" fill="#fccbcd"/>
<rect x="788" y="759" width="5" height="1" fill="#fccbcd"/>
<rect x="794" y="759" width="5" height="1" fill="#fccbcd"/>
<rect x="800" y="754" width="5" height="6" fill="#22ab94"/>
<rect x="806" y="747" width="5" height="13" fill="#22ab94"/>
<rect x="812" y="745" width="5" height="15" fill="#22ab94"/>
<rect x="818" y="751" width="5" height="9" fill="#ace5dc"/>
<rect x="824" y="759" width="5" height="1" fill="#ace5dc"/>
<rect x="830" y="759" width="5" height="5" fill="#ff5252"/>
<rect x="836" y="759" width="5" height="6" fill="#ff5252"/>
<rect x="842" y="747" width="5" height="13" fill="#22ab94"/>
<rect x="848" y="733" width="5" height="27" fill="#22ab94"/>
<rect x="854" y="725" width="5" height="35" fill="#22ab94"/>
<rect x="860" y="729" width="5" height="31" fill="#ace5dc"/>
<rect x="866" y="731" width="5" height="29" fill="#ace5dc"/>
<rect x="872" y="738" width="5" height="22" fill="#ace5dc"/>
<rect x="878" y="746" width="5" height="14" fill="#ace5dc"/>
<rect x="884" y="752" width="5" height="8" fill="#ace5dc"/>
<rect x="890" y="751" width="5" height="9" fill="#22ab94"/>
<rect x="896" y="751" width="5" height="9" fill="#ace5dc"/>
<rect x="902" y="749" width="5" height="11" fill="#22ab94"/>
<rect x="908" y="748" width="5" height="12" fill="#22ab94"/>
<rect x="914" y="752" width="5" height="8" fill="#ace5dc"/>
<rect x="920" y="753" width="5" height="7" fill="#ace5dc"/>
<rect x="926" y="748" width="5" height="12" fill="#22ab94"/>
<rect x="932" y="747" width="5" height="13" fill="#22ab94"/>
<rect x="938" y="749" width="5" height="11" fill="#ace5dc"/>
<rect x="944" y="750" width="5" height="10" fill="#ace5dc"/>
<rect x="950" y="756" width="5" height="4" fill="#ace5dc"/>
<rect x="956" y="759" width="5" height="1" fill="#ace5dc"/>
<rect x="962" y="759" width="5" height="1" fill="#22ab94"/>
<rect x="968" y="757" width="5" height="3" fill="#22ab94"/>
<rect x="974" y="757" width="5" height="3" fill="#ace5dc"/>
<rect x="980" y="759" width="5" height="1" fill="#ace5dc"/>
<rect x="986" y="756" width="5" height="4" fill="#22ab94"/>
<rect x="992" y="749" width="5" height="11" fill="#22ab94"/>
<rect x="998" y="744" width="5" height="16" fill="#22ab94"/>
<rect x="1004" y="747" width="5" height="13" fill="#ace5dc"/>
<rect x="1010" y="752" width="5" height="8" fill="#ace5dc"/>
<rect x="1016" y="755" width="5" height="5" fill="#ace5dc"/>
<rect x="1022" y="758" width="5" height="2" fill="#ace5dc"/>
<rect x="1028" y="759" width="5" height="3" fill="#ff5252"/>
<rect x="1034" y="759" width="5" height="7" fill="#ff5252"/>
<rect x="1040" y="759" width="5" height="13" fill="#ff5252"/>
<rect x="1046" y="759" width="5" height="18" fill="#ff5252"/>
<rect x="1052" y="759" width="5" height="19" fill="#ff5252"/>
<rect x="1058" y="759" width="5" height="14" fill="#fccbcd"/>
<rect x="1064" y="759" width="5" height="14" fill="#fccbcd"/>
<rect x="1070" y="759" width="5" height="16" fill="#ff5252"/>
<rect x="1076" y="759" width="5" height="16" fill="#ff5252"/>
<rect x="1082" y="759" width="5" height="15" fill="#fccbcd"/>
<polyline points="-1.50,753.13 4.50,760.74 10.50,776.07 16.50,794.37 22.50,808.38 28.50,813.01 34.50,805.67 40.50,807.91 46.50,811.62 52.50,815.49 58.50,820.91 64.50,834.13 70.50,845.86 76.50,855.14 82.50,861.00 88.50,860.75 94.50,855.09 100.50,853.88 106.50,856.78 112.50,862.64 118.50,865.63 124.50,868.38 130.50,866.97 136.50,866.64 142.50,861.00 148.50,851.97 154.50,846.81 160.50,841.45 166.50,833.50 172.50,822.97 178.50,810.71 184.50,797.92 190.50,793.78 196.50,791.34 202.50,791.12 208.50,807.61 214.50,815.44 220.50,824.40 226.50,823.06 232.50,838.63 238.50,855.17 244.50,868.23 250.50,884.68 256.50,893.11 262.50,899.71 268.50,906.26 274.50,899.98 280.50,897.85 286.50,888.97 292.50,887.84 298.50,881.44 304.50,862.88 310.50,848.83 316.50,850.48 322.50,843.33 328.50,825.58 334.50,813.79 340.50,792.75 346.50,779.51 352.50,775.01 358.50,771.36 364.50,774.26 370.50,780.96 376.50,784.12 382.50,793.99 388.50,792.04 394.50,787.49 400.50,786.90 406.50,786.78 412.50,786.97 418.50,793.12 424.50,793.84 430.50,786.87 436.50,780.93 442.50,777.45 448.50,780.18 454.50,779.07 460.50,771.65 466.50,766.40 472.50,760.64 478.50,752.76 484.50,752.66 490.50,751.64 496.50,754.93 502.50,756.42 508.50,763.79 514.50,768.48 520.50,765.30 526.50,764.69 532.50,753.56 538.50,745.77 544.50,740.26 550.50,730.10 556.50,714.92 562.50,708.50 568.50,700.16 574.50,693.50 580.50,700.43 586.50,706.96 592.50,710.31 598.50,710.03 604.50,705.89 610.50,697.96 616.50,685.74 622.50,694.85 628.50,701.59 634.50,708.82 640.50,716.15 646.50,719.52 652.50,721.59 658.50,726.18 664.50,728.38 670.50,733.58 676.50,735.15 682.50,738.38 688.50,735.70 694.50,741.76 700.50,744.28 706.50,746.21 712.50,750.35 718.50,753.17 724.50,748.37 730.50,746.57 736.50,742.82 742.50,745.91 748.50,748.16 754.50,750.17 760.50,752.92 766.50,753.05 772.50,759.22 778.50,761.68 784.50,757.96 790.50,755.07 796.50,754.52 802.50,747.72 808.50,737.67 814.50,731.71 820.50,736.17 826.50,743.98 832.50,749.42 838.50,752.71 844.50,731.53 850.50,710.94 856.50,693.62 862.50,690.86 868.50,685.59 874.50,686.73 880.50,691.54 886.50,695.27 892.50,692.00 898.50,690.00 904.50,686.19 910.50,682.32 916.50,684.11 922.50,683.07 928.50,675.73 934.50,671.36 940.50,670.72 946.50,669.02 952.50,674.13 958.50,677.48 964.50,677.09 970.50,674.21 976.50,674.23 982.50,675.38 988.50,672.37 994.50,661.87 1000.50,653.25 1006.50,653.43 1012.50,656.22 1018.50,657.60 1024.50,660.57 1030.50,664.87 1036.50,671.02 1042.50,680.12 1048.50,689.03 1054.50,695.50 1060.50,693.25 1066.50,696.40 1072.50,701.96 1078.50,705.90 1084.50,709.32" fill="none" stroke="#2196f3" stroke-width="1"/>
<polyline points="-1.50,724.80 4.50,731.99 10.50,740.80 16.50,751.52 22.50,762.89 28.50,772.91 34.50,779.47 40.50,785.15 46.50,790.45 52.50,795.46 58.50,800.55 64.50,807.26 70.50,814.98 76.50,823.01 82.50,830.61 88.50,836.64 94.50,840.33 100.50,843.04 106.50,845.79 112.50,849.16 118.50,852.45 124.50,855.64 130.50,857.90 136.50,859.65 142.50,859.92 148.50,858.33 154.50,856.03 160.50,853.11 166.50,849.19 172.50,843.95 178.50,837.30 184.50,829.42 190.50,822.29 196.50,816.10 202.50,811.11 208.50,810.41 214.50,811.41 220.50,814.01 226.50,815.82 232.50,820.38 238.50,827.34 244.50,835.52 250.50,845.35 256.50,854.90 262.50,863.86 268.50,872.34 274.50,877.87 280.50,881.87 286.50,883.29 292.50,884.20 298.50,883.65 304.50,879.49 310.50,873.36 316.50,868.78 322.50,863.69 328.50,856.07 334.50,847.62 340.50,836.64 346.50,825.22 352.50,815.17 358.50,806.41 364.50,799.98 370.50,796.18 376.50,793.77 382.50,793.81 388.50,793.46 394.50,792.26 400.50,791.19 406.50,790.31 412.50,789.64 418.50,790.34 424.50,791.04 430.50,790.20 436.50,788.35 442.50,786.17 448.50,784.97 454.50,783.79 460.50,781.36 466.50,778.37 472.50,774.82 478.50,770.41 484.50,766.86 490.50,763.82 496.50,762.04 502.50,760.92 508.50,761.49 514.50,762.89 520.50,763.37 526.50,763.63 532.50,761.62 538.50,758.45 544.50,754.81 550.50,749.87 556.50,742.88 562.50,736.00 568.50,728.84 574.50,721.77 580.50,717.50 586.50,715.39 592.50,714.38 598.50,713.51 604.50,711.98 610.50,709.18 616.50,704.49 622.50,702.56 628.50,702.37 634.50,703.66 640.50,706.16 646.50,708.83 652.50,711.38 658.50,714.34 664.50,717.15 670.50,720.43 676.50,723.38 682.50,726.38 688.50,728.24 694.50,730.95 700.50,733.61 706.50,736.13 712.50,738.98 718.50,741.81 724.50,743.13 730.50,743.81 736.50,743.62 742.50,744.07 748.50,744.89 754.50,745.95 760.50,747.34 766.50,748.48 772.50,750.63 778.50,752.84 784.50,753.86 790.50,754.10 796.50,754.19 802.50,752.90 808.50,749.85 814.50,746.22 820.50,744.21 826.50,744.17 832.50,745.22 838.50,746.72 844.50,743.68 850.50,737.13 856.50,728.43 862.50,720.92 868.50,713.85 874.50,708.43 880.50,705.05 886.50,703.09 892.50,700.87 898.50,698.70 904.50,696.20 910.50,693.42 916.50,691.56 922.50,689.86 928.50,687.03 934.50,683.90 940.50,681.26 946.50,678.82 952.50,677.88 958.50,677.80 964.50,677.66 970.50,676.97 976.50,676.42 982.50,676.21 988.50,675.44 994.50,672.73 1000.50,668.83 1006.50,665.75 1012.50,663.85 1018.50,662.60 1024.50,662.19 1030.50,662.73 1036.50,664.39 1042.50,667.53 1048.50,671.83 1054.50,676.57 1060.50,679.90 1066.50,683.20 1072.50,686.95 1078.50,690.74 1084.50,694.46" fill="none" stroke="#ff3d7f" stroke-width="2"/>
</g>
<text x="1230.8" y="601.742" font-size="12.5" fill="#131722" text-anchor="start" font-weight="normal" textLength="39.1" lengthAdjust="spacingAndGlyphs">138.000</text>
<text x="1230.8" y="552.22" font-size="12.5" fill="#131722" text-anchor="start" font-weight="normal" textLength="39.1" lengthAdjust="spacingAndGlyphs">140.000</text>
<text x="1230.8" y="502.698" font-size="12.5" fill="#131722" text-anchor="start" font-weight="normal" textLength="39.1" lengthAdjust="spacingAndGlyphs">142.000</text>
<text x="1230.8" y="453.176" font-size="12.5" fill="#131722" text-anchor="start" font-weight="normal" textLength="39.1" lengthAdjust="spacingAndGlyphs">144.000</text>
<text x="1230.8" y="403.654" font-size="12.5" fill="#131722" text-anchor="start" font-weight="normal" textLength="39.1" lengthAdjust="spacingAndGlyphs">146.000</text>
<text x="1230.8" y="354.132" font-size="12.5" fill="#131722" text-anchor="start" font-weight="normal" textLength="39.1" lengthAdjust="spacingAndGlyphs">148.000</text>
<text x="1230.8" y="304.61" font-size="12.5" fill="#131722" text-anchor="start" font-weight="normal" textLength="39.1" lengthAdjust="spacingAndGlyphs">150.000</text>
<text x="1230.8" y="255.088" font-size="12.5" fill="#131722" text-anchor="start" font-weight="normal" textLength="39.1" lengthAdjust="spacingAndGlyphs">152.000</text>
<text x="1230.8" y="205.566" font-size="12.5" fill="#131722" text-anchor="start" font-weight="normal" textLength="39.1" lengthAdjust="spacingAndGlyphs">154.000</text>
<text x="1230.8" y="106.522" font-size="12.5" fill="#131722" text-anchor="start" font-weight="normal" textLength="39.1" lengthAdjust="spacingAndGlyphs">158.000</text>
<text x="1230.8" y="57" font-size="12.5" fill="#131722" text-anchor="start" font-weight="normal" textLength="39.1" lengthAdjust="spacingAndGlyphs">160.000</text>
<defs><clipPath id="ma"><rect x="1220" y="622" width="60" height="338"/></clipPath></defs><g clip-path="url(#ma)">
<text x="1230" y="630" font-size="12.5" fill="#131722" text-anchor="start" font-weight="normal" textLength="28" lengthAdjust="spacingAndGlyphs">2.000</text>
<text x="1230" y="664" font-size="12.5" fill="#131722" text-anchor="start" font-weight="normal" textLength="28" lengthAdjust="spacingAndGlyphs">1.500</text>
<text x="1230" y="697" font-size="12.5" fill="#131722" text-anchor="start" font-weight="normal" textLength="28" lengthAdjust="spacingAndGlyphs">1.000</text>
<text x="1230" y="731" font-size="12.5" fill="#131722" text-anchor="start" font-weight="normal" textLength="28" lengthAdjust="spacingAndGlyphs">0.500</text>
<text x="1230" y="764" font-size="12.5" fill="#131722" text-anchor="start" font-weight="normal" textLength="28" lengthAdjust="spacingAndGlyphs">0.000</text>
<text x="1230" y="798" font-size="12.5" fill="#131722" text-anchor="start" font-weight="normal" textLength="34" lengthAdjust="spacingAndGlyphs">−0.500</text>
<text x="1230" y="831" font-size="12.5" fill="#131722" text-anchor="start" font-weight="normal" textLength="34" lengthAdjust="spacingAndGlyphs">−1.000</text>
<text x="1230" y="865" font-size="12.5" fill="#131722" text-anchor="start" font-weight="normal" textLength="34" lengthAdjust="spacingAndGlyphs">−1.500</text>
<text x="1230" y="899" font-size="12.5" fill="#131722" text-anchor="start" font-weight="normal" textLength="34" lengthAdjust="spacingAndGlyphs">−2.000</text>
<text x="1230" y="932" font-size="12.5" fill="#131722" text-anchor="start" font-weight="normal" textLength="34" lengthAdjust="spacingAndGlyphs">−2.500</text>
</g>
<line x1="0" y1="155.5" x2="1220" y2="155.5" stroke="#eeeeee" stroke-width="1" stroke-dasharray="1,2"/>
<rect x="1220" y="147" width="56" height="17" fill="#f4f4f4"/>
<text x="1231" y="160" font-size="12" fill="#131722" text-anchor="start" font-weight="normal" textLength="39" lengthAdjust="spacingAndGlyphs">155.862</text>
<path d="M1220,109 H1274 Q1276,109 1276,111 V124 Q1276,126 1274,126 H1220 Z" fill="#2196f3"/><text x="1231" y="122" font-size="12" fill="#ffffff" text-anchor="start" font-weight="normal" textLength="39" lengthAdjust="spacingAndGlyphs">157.392</text>
<path d="M1220,164.5 H1274 Q1276,164.5 1276,166.5 V179 Q1276,181 1274,181 H1220 Z" fill="#3aa0e8"/><text x="1231" y="177.25" font-size="12" fill="#ffffff" text-anchor="start" font-weight="normal" textLength="39" lengthAdjust="spacingAndGlyphs">155.829</text>
<path d="M1220,181.5 H1274 Q1276,181.5 1276,183.5 V196 Q1276,198 1274,198 H1220 Z" fill="#f7b12f"/><text x="1231" y="194.25" font-size="12" fill="#131722" text-anchor="start" font-weight="normal" textLength="39" lengthAdjust="spacingAndGlyphs">155.764</text>
<path d="M1220,198 H1274 Q1276,198 1276,200 V213 Q1276,215 1274,215 H1220 Z" fill="#2196f3"/><text x="1231" y="211" font-size="12" fill="#ffffff" text-anchor="start" font-weight="normal" textLength="39" lengthAdjust="spacingAndGlyphs">154.266</text>
<path d="M1220,216 H1274 Q1276,216 1276,218 V231 Q1276,233 1274,233 H1220 Z" fill="#e0740b"/><text x="1231" y="229" font-size="12" fill="#ffffff" text-anchor="start" font-weight="normal" textLength="39" lengthAdjust="spacingAndGlyphs">153.063</text>
<path d="M1220,684 H1262 Q1264,684 1264,686 V699 Q1264,701 1262,701 H1220 Z" fill="#f23e7c"/><text x="1230" y="697" font-size="12" fill="#ffffff" text-anchor="start" font-weight="normal" textLength="28" lengthAdjust="spacingAndGlyphs">0.970</text>
<path d="M1220,701 H1262 Q1264,701 1264,703 V716 Q1264,718 1262,718 H1220 Z" fill="#2196f3"/><text x="1230" y="714" font-size="12" fill="#ffffff" text-anchor="start" font-weight="normal" textLength="28" lengthAdjust="spacingAndGlyphs">0.751</text>
<path d="M1220,766 H1268 Q1270,766 1270,768 V781 Q1270,783 1268,783 H1220 Z" fill="#fccfd3"/><text x="1230" y="779" font-size="12" fill="#131722" text-anchor="start" font-weight="normal" textLength="34" lengthAdjust="spacingAndGlyphs">−0.220</text>
<text x="4.5" y="950" font-size="11.5" fill="#131722" text-anchor="middle" font-weight="normal" textLength="19.5" lengthAdjust="spacingAndGlyphs">Feb</text>
<text x="100.5" y="950" font-size="11.5" fill="#131722" text-anchor="middle" font-weight="normal" textLength="20" lengthAdjust="spacingAndGlyphs">Mar</text>
<text x="202.5" y="950" font-size="11.5" fill="#131722" text-anchor="middle" font-weight="normal" textLength="18.25" lengthAdjust="spacingAndGlyphs">Apr</text>
<text x="310.5" y="950" font-size="11.5" fill="#131722" text-anchor="middle" font-weight="normal" textLength="21.75" lengthAdjust="spacingAndGlyphs">May</text>
<text x="412.5" y="950" font-size="11.5" fill="#131722" text-anchor="middle" font-weight="normal" textLength="19.8" lengthAdjust="spacingAndGlyphs">Jun</text>
<text x="514.5" y="950" font-size="11.5" fill="#131722" text-anchor="middle" font-weight="normal" textLength="16.6" lengthAdjust="spacingAndGlyphs">Jul</text>
<text x="628.5" y="950" font-size="11.5" fill="#131722" text-anchor="middle" font-weight="normal" textLength="19.8" lengthAdjust="spacingAndGlyphs">Aug</text>
<text x="724.5" y="950" font-size="11.5" fill="#131722" text-anchor="middle" font-weight="normal" textLength="19.5" lengthAdjust="spacingAndGlyphs">Sep</text>
<text x="832.5" y="950" font-size="11.5" fill="#131722" text-anchor="middle" font-weight="normal" textLength="18.3" lengthAdjust="spacingAndGlyphs">Oct</text>
<text x="940.5" y="950" font-size="11.5" fill="#131722" text-anchor="middle" font-weight="normal" textLength="19.3" lengthAdjust="spacingAndGlyphs">Nov</text>
<text x="1036.5" y="950" font-size="11.5" fill="#131722" text-anchor="middle" font-weight="normal" textLength="20" lengthAdjust="spacingAndGlyphs">Dec</text>
<text x="1162.5" y="950" font-size="11.5" fill="#131722" text-anchor="middle" font-weight="bold" textLength="26.75" lengthAdjust="spacingAndGlyphs">2026</text>
<text x="10.3" y="20" font-size="12" fill="#131722" text-anchor="start" font-weight="bold" textLength="146.7" lengthAdjust="spacingAndGlyphs">USDJPY 1D - 1uptick.com</text>
<path d="M5,31 H225 V55 H191 V100 H5 Z" fill="#ffffff" fill-opacity="0.6"/>
<text x="9.4" y="45" font-size="12" fill="#131722" text-anchor="start" font-weight="normal" textLength="13.6" lengthAdjust="spacingAndGlyphs">BB</text>
<text x="28.1" y="45" font-size="12" fill="#50535e" text-anchor="start" font-weight="normal" textLength="24" lengthAdjust="spacingAndGlyphs">20 2</text>
<text x="67.6" y="45" font-size="12" fill="#2196f3" text-anchor="start" font-weight="normal" textLength="45.8" lengthAdjust="spacingAndGlyphs">155.829</text>
<text x="120.6" y="45" font-size="12" fill="#2196f3" text-anchor="start" font-weight="normal" textLength="45.8" lengthAdjust="spacingAndGlyphs">157.392</text>
<text x="173.5" y="45" font-size="12" fill="#2196f3" text-anchor="start" font-weight="normal" textLength="46" lengthAdjust="spacingAndGlyphs">154.266</text>
<text x="9" y="69" font-size="12" fill="#131722" text-anchor="start" font-weight="normal" textLength="16" lengthAdjust="spacingAndGlyphs">MA</text>
<text x="31" y="69" font-size="12" fill="#50535e" text-anchor="start" font-weight="normal" textLength="93.2" lengthAdjust="spacingAndGlyphs">10 close 0 SMA 9</text>
<text x="139.8" y="69" font-size="12" fill="#f7b12f" text-anchor="start" font-weight="normal" textLength="45.9" lengthAdjust="spacingAndGlyphs">155.764</text>
<text x="9" y="93" font-size="12" fill="#131722" text-anchor="start" font-weight="normal" textLength="16" lengthAdjust="spacingAndGlyphs">MA</text>
<text x="31" y="93" font-size="12" fill="#50535e" text-anchor="start" font-weight="normal" textLength="93.2" lengthAdjust="spacingAndGlyphs">50 close 0 SMA 9</text>
<text x="139.8" y="93" font-size="12" fill="#e0780f" text-anchor="start" font-weight="normal" textLength="45.9" lengthAdjust="spacingAndGlyphs">153.063</text>
<rect x="9.5" y="103" width="27.5" height="19" rx="3" fill="#ffffff" stroke="#e0e3eb" stroke-width="1"/>
<path d="M19.5,114.5 L23.5,110.5 L27.5,114.5" fill="none" stroke="#131722" stroke-width="1.6"/>
<rect x="5" y="628" width="252" height="21" fill="#ffffff" fill-opacity="0.6"/>
<text x="9.1" y="642.7" font-size="12" fill="#131722" text-anchor="start" font-weight="normal" textLength="32.6" lengthAdjust="spacingAndGlyphs">MACD</text>
<text x="46.7" y="642.7" font-size="12" fill="#50535e" text-anchor="start" font-weight="normal" textLength="74.8" lengthAdjust="spacingAndGlyphs">12 26 close 9</text>
<text x="136.6" y="642.7" font-size="12" fill="#f9c4c8" text-anchor="start" font-weight="normal" textLength="38.6" lengthAdjust="spacingAndGlyphs">−0.220</text>
<text x="182.3" y="642.7" font-size="12" fill="#2196f3" text-anchor="start" font-weight="normal" textLength="31.5" lengthAdjust="spacingAndGlyphs">0.751</text>
<text x="220.9" y="642.7" font-size="12" fill="#f23e7c" text-anchor="start" font-weight="normal" textLength="33.1" lengthAdjust="spacingAndGlyphs">0.970</text>
<circle cx="23.4" cy="909.6" r="16" fill="#ffffff" stroke="#e2e2e2" stroke-width="1"/>
<path d="M12.96,904.9 H21.9 V915.8 H18 V908.75 H12.96 Z M29,904.9 H34.2 L30.25,915.8 H25.25 Z" fill="#131722"/>
<circle cx="25.04" cy="906.9" r="1.9" fill="#131722"/>
<circle cx="1250.4" cy="946.4" r="4.95" fill="none" stroke="#131722" stroke-width="1.15"/>
<line x1="1250.4" y1="941.4" x2="1250.4" y2="939" stroke="#131722" stroke-width="1.3"/>
<line x1="1255.4" y1="946.4" x2="1257.8" y2="946.4" stroke="#131722" stroke-width="1.3"/>
<line x1="1250.4" y1="951.4" x2="1250.4" y2="953.8" stroke="#131722" stroke-width="1.3"/>
<line x1="1245.4" y1="946.4" x2="1243" y2="946.4" stroke="#131722" stroke-width="1.3"/>
<rect x="1254.8" y="950.8" width="1.2" height="1.2" fill="#131722"/>
<rect x="1254.8" y="940.8" width="1.2" height="1.2" fill="#131722"/>
<rect x="1244.8" y="950.8" width="1.2" height="1.2" fill="#131722"/>
<rect x="1244.8" y="940.8" width="1.2" height="1.2" fill="#131722"/>
</svg></body></html>
